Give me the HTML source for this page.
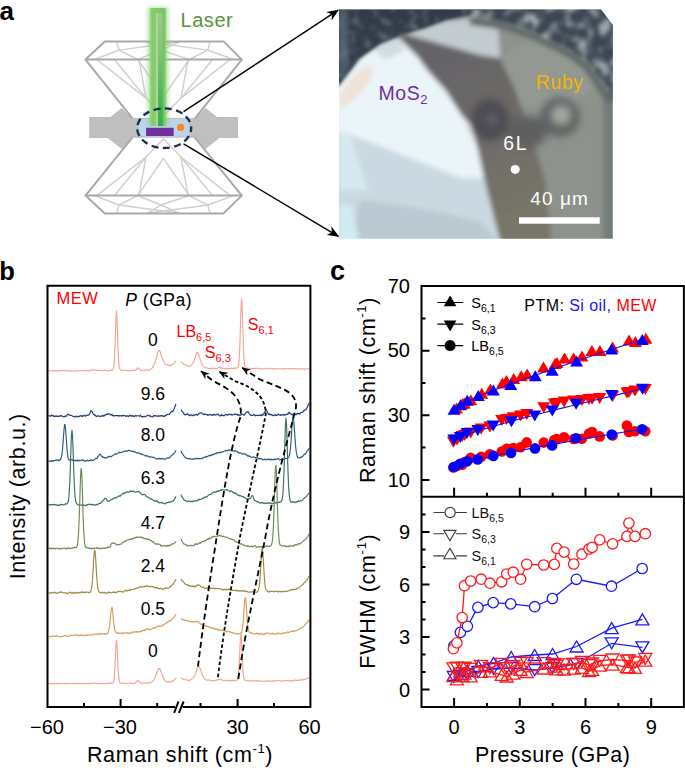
<!DOCTYPE html>
<html><head><meta charset="utf-8">
<style>
html,body{margin:0;padding:0;background:#fff;}
body{width:685px;height:768px;overflow:hidden;}
svg{display:block;}
text{font-family:"Liberation Sans",sans-serif;}
</style></head>
<body>
<svg width="685" height="768" viewBox="0 0 685 768">
<defs>
  <filter id="blur2" x="-5%" y="-5%" width="110%" height="110%"><feGaussianBlur stdDeviation="2.2"/></filter>
  <filter id="blur3" x="-5%" y="-5%" width="110%" height="110%"><feGaussianBlur stdDeviation="2.4"/></filter>
  <linearGradient id="bandg" x1="0" y1="0" x2="0.3" y2="1">
    <stop offset="0" stop-color="#626168"/>
    <stop offset="0.45" stop-color="#6b6866"/>
    <stop offset="1" stop-color="#787469"/>
  </linearGradient>
  <filter id="gtex1" x="-5%" y="-5%" width="110%" height="110%" color-interpolation-filters="sRGB">
    <feTurbulence type="fractalNoise" baseFrequency="0.1" numOctaves="2" seed="4" result="n"/>
    <feColorMatrix in="n" type="matrix" values="0 0 0 0 0.42  0 0 0 0 0.48  0 0 0 0 0.54  2.0 0 0 0 -0.95" result="sp"/>
    <feComposite in="sp" in2="SourceAlpha" operator="in" result="sp2"/>
    <feMerge result="m"><feMergeNode in="SourceGraphic"/><feMergeNode in="sp2"/></feMerge>
    <feGaussianBlur in="m" stdDeviation="1.8"/>
  </filter>
  <filter id="gtex2" x="-5%" y="-5%" width="110%" height="110%" color-interpolation-filters="sRGB">
    <feTurbulence type="fractalNoise" baseFrequency="0.085" numOctaves="2" seed="9" result="n"/>
    <feColorMatrix in="n" type="matrix" values="0 0 0 0 0.74  0 0 0 0 0.78  0 0 0 0 0.80  3.0 0 0 0 -1.35" result="sp"/>
    <feComposite in="sp" in2="SourceAlpha" operator="in" result="sp2"/>
    <feMerge result="m"><feMergeNode in="SourceGraphic"/><feMergeNode in="sp2"/></feMerge>
    <feGaussianBlur in="m" stdDeviation="2"/>
  </filter>
  <filter id="blur35" x="-30%" y="-30%" width="160%" height="160%"><feGaussianBlur stdDeviation="3.2"/></filter>
  <filter id="blur1"><feGaussianBlur stdDeviation="1"/></filter>
  <filter id="glow" x="-50%" y="-10%" width="200%" height="120%"><feGaussianBlur stdDeviation="2"/></filter>
  <filter id="speck" x="0" y="0" width="100%" height="100%">
    <feTurbulence type="fractalNoise" baseFrequency="0.12" numOctaves="2" seed="3" result="n"/>
    <feColorMatrix in="n" type="matrix" values="0 0 0 0 0.62  0 0 0 0 0.68  0 0 0 0 0.72  0 0 0 5 -2.4" result="s"/>
    <feComposite in="s" in2="SourceGraphic" operator="in" result="sm"/>
    <feMerge><feMergeNode in="SourceGraphic"/><feMergeNode in="sm"/></feMerge>
  </filter>
  <clipPath id="photoclip"><polygon points="339,9.5 601,9.5 612.8,25 612.8,238.7 339,238.7"/></clipPath>
  <linearGradient id="beamg" x1="0" x2="1" y1="0" y2="0">
    <stop offset="0" stop-color="#8ccf78" stop-opacity="0.5"/>
    <stop offset="0.15" stop-color="#86cc6c"/>
    <stop offset="0.5" stop-color="#80c868"/>
    <stop offset="0.85" stop-color="#72c460"/>
    <stop offset="1" stop-color="#8ccf78" stop-opacity="0.5"/>
  </linearGradient>
  <linearGradient id="beamv" x1="0" x2="0" y1="0" y2="1">
    <stop offset="0" stop-color="#9dca86"/>
    <stop offset="0.3" stop-color="#86c474"/>
    <stop offset="1" stop-color="#2cb04a"/>
  </linearGradient>
  <filter id="blur06" x="-20%" y="-5%" width="140%" height="110%"><feGaussianBlur stdDeviation="0.7"/></filter>
  <marker id="ah" viewBox="0 0 12 10" refX="11" refY="5" markerWidth="12" markerHeight="10" markerUnits="userSpaceOnUse" orient="auto">
    <path d="M0,0 L12,5 L0,10 L3.5,5 Z" fill="#000"/>
  </marker>
  <marker id="ah2" viewBox="0 0 10 8" refX="9.5" refY="4" markerWidth="9" markerHeight="7.5" markerUnits="userSpaceOnUse" orient="auto">
    <path d="M0,0 L10,4 L0,8 L3,4 Z" fill="#000"/>
  </marker>
</defs>

<!-- ================= Panel a ================= -->
<text x="-0.5" y="20" font-size="26" font-weight="bold">a</text>

<!-- diamonds -->
<g id="diamonds">
  <!-- gasket -->
  <path d="M89.2,117.1 L110.4,117.1 L121.8,107.9 L132.5,118.4 L195,118.4 L205.5,107.9 L217,117.1 L238,117.1 L238,138.1 L219.5,138.1 L205.5,149 L194.5,137.2 L132.7,137.2 L121.8,149 L107.8,138.1 L89.2,138.1 Z" fill="#bfbfbf"/>
  <g stroke="#cfcfcf" stroke-width="1.45" fill="none" stroke-linejoin="round">
    <path d="M163.5,116.1 L146,98.1 L96.8,59.5"/>
    <path d="M146,98.1 L114.4,59.5"/>
    <path d="M146,98.1 L138.9,59.5"/>
    <path d="M163.5,116.1 L181,98.1 L230.2,59.5"/>
    <path d="M181,98.1 L212.6,59.5"/>
    <path d="M181,98.1 L188.1,59.5"/>
    <path d="M137.7,59.5 L163.4,96.7 L189.3,59.5"/>
    <path d="M94.5,59.5 L119,50.1 L137.7,59.5"/>
    <path d="M119,50.1 L116.7,41.8"/>
    <path d="M119,50.1 L179.8,41.8"/>
    <path d="M137.7,59.5 L161,50.1 L189,59.5"/>
    <path d="M147,41.8 L207.8,50.1"/>
    <path d="M189,59.5 L207.8,50.1 L233.5,59.5"/>
    <path d="M207.8,50.1 L210,41.8"/>
    <path d="M161,50.1 L147,41.8"/>
    <path d="M161,50.1 L179.8,41.8"/>
    <path d="M163.5,139 L146,157 L96.8,195.6"/>
    <path d="M146,157 L114.4,195.6"/>
    <path d="M146,157 L138.9,195.6"/>
    <path d="M163.5,139 L181,157 L230.2,195.6"/>
    <path d="M181,157 L212.6,195.6"/>
    <path d="M181,157 L188.1,195.6"/>
    <path d="M137.7,195.6 L163.4,158.4 L189.3,195.6"/>
    <path d="M94.5,195.6 L119,205 L137.7,195.6"/>
    <path d="M119,205 L116.7,213.3"/>
    <path d="M119,205 L179.8,213.3"/>
    <path d="M137.7,195.6 L161,205 L189,195.6"/>
    <path d="M147,213.3 L207.8,205"/>
    <path d="M189,195.6 L207.8,205 L233.5,195.6"/>
    <path d="M207.8,205 L210,213.3"/>
    <path d="M161,205 L147,213.3"/>
    <path d="M161,205 L179.8,213.3"/>
  </g>
  <g stroke="#a9a9a9" stroke-width="2" fill="none" stroke-linejoin="round">
    <path d="M104.8,41.4 L223.5,41.4 L241.8,59.6 L85.5,59.6 Z"/>
    <path d="M85.5,59.6 L132.5,118.4 M241.8,59.6 L195,118.4"/>
    <path d="M104.8,213.4 L223.5,213.4 L241.8,195.6 L85.5,195.6 Z"/>
    <path d="M85.5,195.6 L132.7,137.2 M241.8,195.6 L194.5,137.2"/>
  </g>
  <!-- sample chamber -->
  <rect x="138.2" y="118.4" width="50.6" height="18.7" rx="3" ry="3" fill="#bcd5ed"/>
  <path d="M132.5,118.4 H195 M132.7,137.2 H194.5" stroke="#b4b4b4" stroke-width="0.8"/>
  <!-- beam -->
  <rect x="147.5" y="7" width="21" height="119" fill="#86cf70" opacity="0.55" filter="url(#glow)"/>
  <rect x="149.6" y="8" width="16.9" height="118" fill="url(#beamg)" filter="url(#blur06)"/>
  <rect x="155.6" y="13" width="2.6" height="113" fill="#acd49a"/>
  <rect x="158.1" y="13" width="4.6" height="113" fill="url(#beamv)"/>
  <rect x="146.1" y="127.8" width="27.6" height="8.2" fill="#7030a0"/>
  <circle cx="180.6" cy="127.4" r="3.6" fill="#fb8a1a"/>
  <ellipse cx="164.2" cy="128.2" rx="27" ry="19.8" fill="none" stroke="#1c2e52" stroke-width="2.3" stroke-dasharray="7 4.4" stroke-dashoffset="3"/>
</g>
<text x="180.5" y="27.3" font-size="20" letter-spacing="0.55" fill="#56953a">Laser</text>

<!-- connector arrows -->
<line x1="183.6" y1="111.7" x2="338.1" y2="10.2" stroke="#000" stroke-width="1.4" marker-end="url(#ah)"/>
<line x1="183.6" y1="143.9" x2="338.3" y2="236.3" stroke="#000" stroke-width="1.4" marker-end="url(#ah)"/>

<!-- photo -->
<g clip-path="url(#photoclip)">
  <g filter="url(#blur3)">
    <rect x="330" y="0" width="300" height="250" fill="#8d938c"/>
    <ellipse cx="545" cy="75" rx="50" ry="35" fill="#939992"/>
    <rect x="603" y="90" width="30" height="160" fill="#737d7c"/>
    <!-- dark brown band -->
    <polygon points="396,33 440,40 480,55 500,58 515,90 530,130 545,180 552,245 501,245 492,210 484,178 478,150 471,125 462,116 446,91 428,71 417,56" fill="url(#bandg)"/>
    <!-- bright MoS2 -->
    <polygon points="330,80 339,85 360,58 380,44 397,37 417,56 428,71 446,91 462,116 471,125 478,150 484,178 460,178 345,133 330,132" fill="#ebf4f8"/>
    <polygon points="330,132 345,133 460,178 484,178 492,210 501,245 330,245" fill="#cad9e1"/>
    <polygon points="360,200 400,205 440,212 480,222 501,245 350,245" fill="#bac9d2"/>
    <polygon points="339,205 352,205 360,245 339,245" fill="#d2eaf1"/>
    <polygon points="339,132 350,134 368,190 339,190" fill="#d6e9f0"/>
    <!-- warm tint -->
    <ellipse cx="356" cy="86" rx="8" ry="26" transform="rotate(40 356 86)" fill="#f0e0d4" opacity="0.9"/>
    <polygon points="372,48 397,37 405,50 385,60" fill="#c9d5dc" opacity="0.8"/>
    <!-- light grey quad -->
    <polygon points="405,34 446,21 482,18 498,30 500,58 480,55" fill="#c3ccd0"/>
    <!-- dark spot & ruby -->
    <g filter="url(#blur35)">
      <ellipse cx="527" cy="132" rx="20" ry="16" fill="#5f5e60"/>
      <ellipse cx="490" cy="120" rx="19" ry="21" fill="#4e4b53"/>
      <circle cx="492" cy="119" r="6" fill="#625e66"/>
      <circle cx="560" cy="117" r="20" fill="#5d6364"/>
      <circle cx="561" cy="115" r="9.5" fill="#a6a8a0"/>
    </g>
    <!-- gasket rim shadow -->
    <path d="M470,21 L505,26 L533,36 L554,46 L571,55 L586,66 L597,82 L610,102" stroke="#646b6a" stroke-width="8" fill="none" stroke-linejoin="round"/>
  </g>
  <g filter="url(#gtex1)">
    <polygon points="330,0 485,0 480,13 446,20 425,28 405,34 397,37 380,44 360,58 339,85 330,92" fill="#313c48"/>
  </g>
  <polygon points="339,9.5 347,9.5 348,60 339,75" fill="#6d7c89" opacity="0.7" filter="url(#blur35)"/>
  <g filter="url(#gtex2)">
    <path d="M470,0 L630,0 L630,115 L613,99 L600,78 L588,62 L571,51 L554,42 L533,32 L505,22 L472,17 Z" fill="#3a4551"/>
  </g>
</g>

<text x="378.6" y="100.2" font-size="19.5" letter-spacing="0.5" fill="#7030a0">MoS<tspan font-size="13" dy="4">2</tspan></text>
<text x="535.8" y="88.6" font-size="19.5" letter-spacing="0.6" fill="#f5b400">Ruby</text>
<text x="503.3" y="150" font-size="19.3" letter-spacing="1.8" fill="#fff">6L</text>
<circle cx="515.2" cy="169.4" r="4.5" fill="#fff"/>
<text x="530.3" y="205.2" font-size="19" letter-spacing="1.1" fill="#fff">40 μm</text>
<rect x="519" y="217.3" width="80.7" height="6.4" fill="#fff"/>

<!-- ================= Panel b ================= -->
<text x="-0.8" y="279.6" font-size="25.5" font-weight="bold">b</text>
<g fill="none" stroke-width="1.15" stroke-linejoin="round">
<path d="M48.5 370.6 L49.0 370.9 L49.5 371.0 L50.0 370.8 L50.5 370.8 L51.0 370.7 L51.5 370.8 L52.0 371.0 L52.5 370.7 L53.0 370.5 L53.5 370.8 L54.0 370.8 L54.5 370.9 L55.0 370.6 L55.5 370.6 L56.0 370.8 L56.5 370.7 L57.0 371.0 L57.5 371.1 L58.0 370.7 L58.5 370.5 L59.0 370.6 L59.5 370.9 L60.0 370.8 L60.5 370.6 L61.0 370.7 L61.5 370.5 L62.0 370.4 L62.5 370.6 L63.0 370.7 L63.5 370.6 L64.0 370.5 L64.5 370.5 L65.0 370.6 L65.5 370.6 L66.0 370.4 L66.5 370.8 L67.0 370.8 L67.5 370.9 L68.0 370.7 L68.5 371.0 L69.0 371.1 L69.5 370.7 L70.0 370.7 L70.5 370.8 L71.0 370.9 L71.5 371.1 L72.0 370.9 L72.5 371.0 L73.0 371.0 L73.5 370.8 L74.0 370.8 L74.5 371.0 L75.0 371.1 L75.5 370.9 L76.0 370.9 L76.5 370.6 L77.0 370.5 L77.5 370.8 L78.0 370.7 L78.5 370.6 L79.0 370.7 L79.5 370.8 L80.0 370.9 L80.5 370.8 L81.0 370.7 L81.5 370.7 L82.0 370.9 L82.5 370.8 L83.0 370.7 L83.5 370.7 L84.0 370.5 L84.5 370.3 L85.0 370.6 L85.5 370.9 L86.0 370.9 L86.5 370.7 L87.0 370.5 L87.5 370.6 L88.0 370.8 L88.5 370.8 L89.0 370.7 L89.5 370.8 L90.0 370.4 L90.5 370.3 L91.0 370.5 L91.5 370.3 L92.0 370.1 L92.5 369.8 L93.0 369.8 L93.5 370.0 L94.0 369.6 L94.5 369.9 L95.0 370.1 L95.5 370.2 L96.0 370.3 L96.5 370.5 L97.0 370.4 L97.5 370.4 L98.0 370.4 L98.5 370.2 L99.0 370.6 L99.5 370.6 L100.0 370.5 L100.5 370.5 L101.0 370.6 L101.5 370.5 L102.0 370.5 L102.5 370.6 L103.0 370.7 L103.5 370.7 L104.0 370.7 L104.5 370.4 L105.0 370.4 L105.5 370.3 L106.0 370.5 L106.5 370.7 L107.0 370.8 L107.5 370.9 L108.0 370.9 L108.5 370.6 L109.0 370.7 L109.5 370.7 L110.0 370.3 L110.5 370.1 L111.0 369.9 L111.5 370.2 L112.0 370.0 L112.5 369.6 L113.0 369.4 L113.5 368.2 L114.0 365.1 L114.5 358.5 L115.0 347.3 L115.5 331.7 L116.0 316.9 L116.5 310.7 L117.0 317.1 L117.5 331.9 L118.0 347.4 L118.5 358.6 L119.0 365.2 L119.5 368.2 L120.0 369.3 L120.5 369.6 L121.0 370.2 L121.5 370.3 L122.0 370.2 L122.5 370.4 L123.0 370.6 L123.5 370.3 L124.0 370.1 L124.5 370.1 L125.0 370.4 L125.5 370.3 L126.0 370.5 L126.5 370.7 L127.0 370.7 L127.5 370.5 L128.0 370.8 L128.5 370.9 L129.0 370.7 L129.5 370.5 L130.0 370.6 L130.5 370.5 L131.0 370.6 L131.5 370.5 L132.0 370.6 L132.5 370.3 L133.0 370.3 L133.5 370.6 L134.0 370.7 L134.5 370.4 L135.0 370.5 L135.5 370.0 L136.0 370.0 L136.5 369.5 L137.0 368.9 L137.5 368.2 L138.0 367.8 L138.5 368.3 L139.0 368.5 L139.5 369.3 L140.0 369.9 L140.5 370.1 L141.0 370.1 L141.5 370.4 L142.0 370.7 L142.5 370.6 L143.0 370.5 L143.5 370.4 L144.0 370.3 L144.5 370.1 L145.0 370.3 L145.5 370.2 L146.0 370.1 L146.5 369.9 L147.0 370.1 L147.5 370.0 L148.0 370.0 L148.5 369.9 L149.0 370.1 L149.5 370.1 L150.0 369.6 L150.5 369.1 L151.0 368.7 L151.5 368.6 L152.0 368.2 L152.5 367.3 L153.0 366.4 L153.5 365.7 L154.0 364.8 L154.5 363.7 L155.0 362.1 L155.5 360.8 L156.0 359.1 L156.5 357.2 L157.0 355.7 L157.5 353.7 L158.0 352.4 L158.5 351.0 L159.0 350.4 L159.5 350.8 L160.0 351.3 L160.5 352.7 L161.0 354.2 L161.5 355.9 L162.0 357.3 L162.5 358.6 L163.0 359.8 L163.5 361.2 L164.0 362.2 L164.5 363.2 L165.0 364.0 L165.5 364.1 L166.0 364.6 L166.5 364.6 L167.0 364.7 L167.5 364.8 L168.0 365.3 L168.5 365.5 L169.0 365.6 L169.5 365.4 L170.0 365.4 L170.5 365.4 L171.0 365.1 L171.5 365.0 L172.0 364.6 L172.5 364.2 L173.0 363.9 L173.5 363.8 L174.0 363.4 L174.5 363.1 L175.0 362.3 L175.5 361.4 L176.0 360.6" stroke="#f5a596"/>
<path d="M181.0 361.8 L181.5 362.5 L182.0 362.5 L182.5 362.8 L183.0 363.5 L183.5 364.0 L184.0 364.4 L184.5 364.5 L185.0 364.8 L185.5 365.1 L186.0 365.3 L186.5 365.3 L187.0 365.5 L187.5 365.6 L188.0 365.9 L188.5 366.2 L189.0 366.4 L189.5 366.2 L190.0 366.0 L190.5 365.7 L191.0 365.2 L191.5 364.7 L192.0 364.4 L192.5 363.8 L193.0 363.0 L193.5 362.3 L194.0 361.0 L194.5 359.6 L195.0 357.9 L195.5 356.1 L196.0 354.6 L196.5 353.2 L197.0 352.5 L197.5 352.5 L198.0 352.9 L198.5 353.6 L199.0 355.3 L199.5 357.0 L200.0 358.7 L200.5 360.4 L201.0 361.8 L201.5 363.1 L202.0 364.0 L202.5 365.2 L203.0 366.0 L203.5 366.3 L204.0 366.8 L204.5 367.3 L205.0 367.4 L205.5 367.6 L206.0 367.7 L206.5 368.1 L207.0 368.1 L207.5 368.3 L208.0 368.1 L208.5 368.4 L209.0 368.5 L209.5 368.4 L210.0 368.4 L210.5 368.6 L211.0 368.6 L211.5 368.5 L212.0 368.3 L212.5 368.3 L213.0 368.5 L213.5 368.3 L214.0 368.6 L214.5 368.4 L215.0 368.6 L215.5 368.4 L216.0 368.7 L216.5 368.6 L217.0 368.4 L217.5 368.2 L218.0 368.0 L218.5 367.7 L219.0 367.2 L219.5 366.9 L220.0 367.1 L220.5 367.6 L221.0 367.9 L221.5 367.9 L222.0 368.3 L222.5 368.6 L223.0 368.8 L223.5 368.5 L224.0 368.7 L224.5 368.4 L225.0 368.6 L225.5 368.5 L226.0 368.4 L226.5 368.7 L227.0 368.4 L227.5 368.5 L228.0 368.8 L228.5 368.5 L229.0 368.4 L229.5 368.7 L230.0 368.6 L230.5 368.7 L231.0 368.4 L231.5 368.4 L232.0 368.3 L232.5 368.5 L233.0 368.3 L233.5 368.6 L234.0 368.3 L234.5 368.4 L235.0 368.1 L235.5 368.0 L236.0 368.3 L236.5 368.0 L237.0 367.7 L237.5 367.7 L238.0 367.0 L238.5 365.1 L239.0 361.7 L239.5 353.7 L240.0 340.8 L240.5 324.1 L241.0 307.9 L241.5 299.1 L242.0 302.9 L242.5 317.2 L243.0 334.4 L243.5 349.2 L244.0 359.1 L244.5 364.4 L245.0 366.9 L245.5 367.8 L246.0 368.3 L246.5 368.4 L247.0 368.4 L247.5 368.2 L248.0 368.4 L248.5 368.4 L249.0 368.2 L249.5 368.3 L250.0 368.7 L250.5 368.4 L251.0 368.6 L251.5 368.5 L252.0 368.6 L252.5 368.4 L253.0 368.8 L253.5 368.6 L254.0 368.7 L254.5 368.6 L255.0 368.4 L255.5 368.6 L256.0 368.4 L256.5 368.3 L257.0 368.2 L257.5 368.3 L258.0 368.3 L258.5 368.5 L259.0 368.6 L259.5 368.9 L260.0 369.1 L260.5 369.2 L261.0 368.8 L261.5 368.8 L262.0 368.6 L262.5 368.7 L263.0 368.8 L263.5 368.9 L264.0 369.0 L264.5 368.7 L265.0 368.7 L265.5 368.7 L266.0 368.5 L266.5 368.3 L267.0 368.5 L267.5 368.4 L268.0 368.7 L268.5 368.6 L269.0 368.4 L269.5 368.4 L270.0 368.4 L270.5 368.4 L271.0 368.6 L271.5 368.7 L272.0 368.6 L272.5 368.8 L273.0 368.6 L273.5 368.9 L274.0 369.1 L274.5 369.1 L275.0 368.9 L275.5 368.9 L276.0 368.9 L276.5 368.6 L277.0 368.6 L277.5 368.7 L278.0 368.6 L278.5 368.4 L279.0 368.8 L279.5 368.7 L280.0 368.7 L280.5 369.0 L281.0 369.0 L281.5 368.8 L282.0 369.0 L282.5 368.9 L283.0 368.6 L283.5 368.8 L284.0 368.5 L284.5 368.5 L285.0 368.8 L285.5 368.9 L286.0 368.6 L286.5 368.6 L287.0 368.7 L287.5 368.7 L288.0 368.6 L288.5 368.7 L289.0 368.5 L289.5 368.5 L290.0 368.6 L290.5 368.9 L291.0 368.6 L291.5 368.8 L292.0 368.6 L292.5 368.7 L293.0 368.7 L293.5 368.7 L294.0 368.9 L294.5 368.8 L295.0 368.6 L295.5 368.5 L296.0 368.4 L296.5 368.8 L297.0 368.8 L297.5 369.1 L298.0 369.1 L298.5 368.7 L299.0 368.8 L299.5 369.0 L300.0 369.0 L300.5 368.9 L301.0 368.8 L301.5 368.8 L302.0 368.9 L302.5 368.7 L303.0 368.8 L303.5 368.8 L304.0 369.0 L304.5 369.1 L305.0 369.2 L305.5 369.2 L306.0 368.9 L306.5 368.7 L307.0 368.7 L307.5 368.6 L308.0 368.7 L308.5 368.8 L309.0 369.0" stroke="#f5a596"/>
<path d="M48.5 415.6 L49.0 415.9 L49.5 415.7 L50.0 416.0 L50.5 416.2 L51.0 415.5 L51.5 415.1 L52.0 415.9 L52.5 415.6 L53.0 415.4 L53.5 416.3 L54.0 416.1 L54.5 416.5 L55.0 416.2 L55.5 416.3 L56.0 415.7 L56.5 416.0 L57.0 416.5 L57.5 416.3 L58.0 416.5 L58.5 416.5 L59.0 415.7 L59.5 416.1 L60.0 416.2 L60.5 415.8 L61.0 415.3 L61.5 416.1 L62.0 416.0 L62.5 416.2 L63.0 416.6 L63.5 416.6 L64.0 416.8 L64.5 416.2 L65.0 416.4 L65.5 416.0 L66.0 416.4 L66.5 416.3 L67.0 415.1 L67.5 414.4 L68.0 414.0 L68.5 414.7 L69.0 414.7 L69.5 415.1 L70.0 415.0 L70.5 415.4 L71.0 415.4 L71.5 415.5 L72.0 415.8 L72.5 416.0 L73.0 416.5 L73.5 416.5 L74.0 416.8 L74.5 416.9 L75.0 417.1 L75.5 416.8 L76.0 416.0 L76.5 416.4 L77.0 416.8 L77.5 417.0 L78.0 416.6 L78.5 416.6 L79.0 415.9 L79.5 416.4 L80.0 416.3 L80.5 415.8 L81.0 415.3 L81.5 416.0 L82.0 416.6 L82.5 415.8 L83.0 416.2 L83.5 415.9 L84.0 415.4 L84.5 415.3 L85.0 415.9 L85.5 416.3 L86.0 415.5 L86.5 415.7 L87.0 415.0 L87.5 415.4 L88.0 415.0 L88.5 415.2 L89.0 415.0 L89.5 413.8 L90.0 413.2 L90.5 411.6 L91.0 410.6 L91.5 411.3 L92.0 411.6 L92.5 412.5 L93.0 413.6 L93.5 414.6 L94.0 414.7 L94.5 414.6 L95.0 415.6 L95.5 415.4 L96.0 416.2 L96.5 416.6 L97.0 416.1 L97.5 415.9 L98.0 415.9 L98.5 416.1 L99.0 416.1 L99.5 416.1 L100.0 416.1 L100.5 416.6 L101.0 416.3 L101.5 416.0 L102.0 416.2 L102.5 415.6 L103.0 415.4 L103.5 416.1 L104.0 415.9 L104.5 415.7 L105.0 414.9 L105.5 414.8 L106.0 414.9 L106.5 414.1 L107.0 414.3 L107.5 414.4 L108.0 413.6 L108.5 413.9 L109.0 413.9 L109.5 414.3 L110.0 414.2 L110.5 414.8 L111.0 415.2 L111.5 414.6 L112.0 414.4 L112.5 415.2 L113.0 416.0 L113.5 415.6 L114.0 415.6 L114.5 415.9 L115.0 415.6 L115.5 415.6 L116.0 415.5 L116.5 415.5 L117.0 415.8 L117.5 415.6 L118.0 415.6 L118.5 416.1 L119.0 415.4 L119.5 415.7 L120.0 416.1 L120.5 415.8 L121.0 415.5 L121.5 416.1 L122.0 415.7 L122.5 415.4 L123.0 415.6 L123.5 416.0 L124.0 415.5 L124.5 415.5 L125.0 415.5 L125.5 416.1 L126.0 416.0 L126.5 416.5 L127.0 415.8 L127.5 415.7 L128.0 416.0 L128.5 416.5 L129.0 416.2 L129.5 415.7 L130.0 415.3 L130.5 415.7 L131.0 415.4 L131.5 416.1 L132.0 416.5 L132.5 415.8 L133.0 415.6 L133.5 416.2 L134.0 416.3 L134.5 416.6 L135.0 416.1 L135.5 415.6 L136.0 415.5 L136.5 416.1 L137.0 415.7 L137.5 415.7 L138.0 415.7 L138.5 415.7 L139.0 415.7 L139.5 416.4 L140.0 415.8 L140.5 415.2 L141.0 416.1 L141.5 416.6 L142.0 417.0 L142.5 416.4 L143.0 416.8 L143.5 417.0 L144.0 416.2 L144.5 416.4 L145.0 416.7 L145.5 416.6 L146.0 416.3 L146.5 415.9 L147.0 415.7 L147.5 415.5 L148.0 415.1 L148.5 415.6 L149.0 415.5 L149.5 416.1 L150.0 415.5 L150.5 416.2 L151.0 416.4 L151.5 416.8 L152.0 416.9 L152.5 417.0 L153.0 416.7 L153.5 415.7 L154.0 416.1 L154.5 415.6 L155.0 415.5 L155.5 415.9 L156.0 416.0 L156.5 415.8 L157.0 416.5 L157.5 416.4 L158.0 416.0 L158.5 415.6 L159.0 416.2 L159.5 416.0 L160.0 416.3 L160.5 415.9 L161.0 415.5 L161.5 415.6 L162.0 416.1 L162.5 415.5 L163.0 416.0 L163.5 416.4 L164.0 416.4 L164.5 416.4 L165.0 415.3 L165.5 415.5 L166.0 415.8 L166.5 414.9 L167.0 414.6 L167.5 414.4 L168.0 414.5 L168.5 414.3 L169.0 414.2 L169.5 414.4 L170.0 413.3 L170.5 412.6 L171.0 412.2 L171.5 411.7 L172.0 411.0 L172.5 411.6 L173.0 411.4 L173.5 409.8 L174.0 409.1 L174.5 407.9 L175.0 406.6 L175.5 405.2 L176.0 404.0" stroke="#203a7a"/>
<path d="M181.0 409.6 L181.5 410.4 L182.0 411.4 L182.5 411.9 L183.0 412.2 L183.5 412.9 L184.0 414.1 L184.5 414.6 L185.0 414.9 L185.5 414.4 L186.0 414.6 L186.5 414.4 L187.0 414.1 L187.5 413.9 L188.0 414.0 L188.5 415.0 L189.0 415.4 L189.5 415.6 L190.0 415.7 L190.5 414.9 L191.0 414.7 L191.5 415.0 L192.0 415.3 L192.5 415.6 L193.0 415.8 L193.5 414.8 L194.0 415.0 L194.5 415.2 L195.0 415.1 L195.5 414.5 L196.0 414.6 L196.5 414.1 L197.0 414.9 L197.5 415.1 L198.0 414.7 L198.5 413.9 L199.0 413.9 L199.5 413.2 L200.0 413.0 L200.5 412.8 L201.0 412.7 L201.5 412.9 L202.0 413.6 L202.5 413.9 L203.0 413.9 L203.5 414.0 L204.0 414.8 L204.5 414.3 L205.0 413.9 L205.5 414.5 L206.0 414.4 L206.5 414.7 L207.0 414.8 L207.5 414.6 L208.0 415.4 L208.5 414.8 L209.0 414.8 L209.5 414.5 L210.0 414.9 L210.5 414.6 L211.0 414.6 L211.5 415.1 L212.0 414.8 L212.5 415.0 L213.0 415.5 L213.5 414.7 L214.0 414.3 L214.5 414.2 L215.0 414.9 L215.5 415.1 L216.0 414.7 L216.5 414.6 L217.0 414.3 L217.5 414.6 L218.0 414.2 L218.5 414.8 L219.0 415.4 L219.5 415.8 L220.0 415.7 L220.5 416.0 L221.0 414.9 L221.5 414.7 L222.0 415.4 L222.5 415.6 L223.0 415.2 L223.5 415.7 L224.0 415.5 L224.5 415.7 L225.0 415.1 L225.5 414.6 L226.0 414.7 L226.5 414.4 L227.0 414.5 L227.5 415.3 L228.0 414.9 L228.5 414.3 L229.0 414.0 L229.5 414.0 L230.0 414.8 L230.5 414.7 L231.0 414.6 L231.5 414.2 L232.0 415.2 L232.5 415.0 L233.0 414.6 L233.5 414.2 L234.0 414.0 L234.5 414.0 L235.0 414.7 L235.5 414.3 L236.0 414.0 L236.5 414.4 L237.0 414.3 L237.5 415.3 L238.0 414.6 L238.5 414.8 L239.0 415.2 L239.5 415.0 L240.0 415.6 L240.5 415.3 L241.0 414.8 L241.5 414.7 L242.0 414.2 L242.5 414.4 L243.0 414.2 L243.5 415.0 L244.0 415.2 L244.5 414.9 L245.0 413.9 L245.5 413.4 L246.0 412.8 L246.5 412.2 L247.0 411.6 L247.5 412.1 L248.0 411.7 L248.5 411.8 L249.0 413.4 L249.5 413.9 L250.0 414.9 L250.5 414.8 L251.0 415.3 L251.5 415.3 L252.0 415.5 L252.5 415.5 L253.0 415.2 L253.5 414.5 L254.0 414.3 L254.5 415.1 L255.0 415.5 L255.5 415.8 L256.0 415.2 L256.5 415.3 L257.0 415.5 L257.5 415.4 L258.0 415.6 L258.5 415.3 L259.0 415.3 L259.5 415.3 L260.0 414.8 L260.5 415.3 L261.0 415.7 L261.5 414.6 L262.0 415.2 L262.5 415.4 L263.0 415.0 L263.5 413.6 L264.0 413.6 L264.5 412.1 L265.0 411.8 L265.5 410.9 L266.0 409.7 L266.5 409.8 L267.0 411.2 L267.5 412.3 L268.0 413.5 L268.5 414.6 L269.0 414.3 L269.5 413.9 L270.0 414.8 L270.5 414.2 L271.0 415.0 L271.5 414.4 L272.0 415.0 L272.5 415.3 L273.0 415.6 L273.5 415.4 L274.0 415.7 L274.5 414.9 L275.0 415.2 L275.5 414.8 L276.0 415.4 L276.5 415.5 L277.0 415.2 L277.5 415.1 L278.0 414.4 L278.5 414.0 L279.0 414.6 L279.5 414.7 L280.0 415.3 L280.5 415.3 L281.0 414.6 L281.5 414.6 L282.0 415.1 L282.5 415.0 L283.0 414.3 L283.5 415.0 L284.0 415.4 L284.5 414.6 L285.0 414.7 L285.5 414.6 L286.0 415.0 L286.5 414.5 L287.0 414.0 L287.5 413.9 L288.0 414.2 L288.5 413.0 L289.0 412.3 L289.5 412.6 L290.0 413.4 L290.5 413.6 L291.0 413.8 L291.5 414.6 L292.0 414.9 L292.5 414.2 L293.0 414.8 L293.5 414.3 L294.0 414.1 L294.5 414.7 L295.0 414.4 L295.5 414.7 L296.0 414.1 L296.5 414.6 L297.0 413.9 L297.5 413.4 L298.0 413.6 L298.5 413.4 L299.0 413.5 L299.5 414.0 L300.0 413.9 L300.5 412.8 L301.0 412.5 L301.5 412.5 L302.0 412.3 L302.5 412.4 L303.0 411.9 L303.5 410.9 L304.0 410.4 L304.5 410.7 L305.0 409.9 L305.5 409.8 L306.0 409.6 L306.5 408.7 L307.0 407.9 L307.5 406.8 L308.0 405.4 L308.5 404.8 L309.0 403.2" stroke="#203a7a"/>
<path d="M48.5 460.8 L49.0 461.0 L49.5 461.1 L50.0 461.4 L50.5 461.3 L51.0 461.5 L51.5 460.6 L52.0 460.5 L52.5 461.1 L53.0 461.0 L53.5 461.3 L54.0 460.5 L54.5 460.5 L55.0 460.2 L55.5 460.4 L56.0 460.5 L56.5 460.0 L57.0 459.9 L57.5 459.9 L58.0 460.6 L58.5 460.7 L59.0 460.1 L59.5 460.4 L60.0 459.7 L60.5 459.6 L61.0 458.3 L61.5 456.3 L62.0 454.2 L62.5 449.3 L63.0 442.9 L63.5 436.4 L64.0 429.7 L64.5 424.6 L65.0 424.6 L65.5 428.3 L66.0 435.0 L66.5 441.9 L67.0 448.9 L67.5 453.9 L68.0 457.4 L68.5 459.4 L69.0 459.7 L69.5 459.9 L70.0 459.8 L70.5 459.7 L71.0 459.5 L71.5 459.7 L72.0 460.2 L72.5 459.8 L73.0 460.3 L73.5 460.2 L74.0 460.2 L74.5 460.7 L75.0 460.6 L75.5 460.4 L76.0 460.4 L76.5 460.7 L77.0 460.2 L77.5 460.9 L78.0 460.2 L78.5 460.7 L79.0 461.0 L79.5 460.3 L80.0 460.7 L80.5 460.5 L81.0 460.6 L81.5 460.1 L82.0 459.8 L82.5 459.8 L83.0 460.6 L83.5 460.3 L84.0 460.7 L84.5 461.1 L85.0 461.3 L85.5 460.8 L86.0 460.5 L86.5 460.5 L87.0 460.8 L87.5 460.2 L88.0 460.6 L88.5 460.8 L89.0 461.0 L89.5 460.2 L90.0 460.7 L90.5 460.0 L91.0 459.9 L91.5 460.1 L92.0 460.6 L92.5 460.1 L93.0 460.5 L93.5 460.3 L94.0 459.8 L94.5 459.5 L95.0 459.1 L95.5 458.6 L96.0 458.3 L96.5 458.4 L97.0 458.6 L97.5 457.3 L98.0 456.1 L98.5 456.1 L99.0 455.2 L99.5 454.5 L100.0 454.1 L100.5 454.6 L101.0 455.6 L101.5 456.0 L102.0 456.5 L102.5 456.5 L103.0 457.6 L103.5 457.2 L104.0 457.5 L104.5 458.0 L105.0 457.5 L105.5 457.8 L106.0 458.1 L106.5 457.9 L107.0 457.9 L107.5 457.0 L108.0 456.9 L108.5 456.4 L109.0 456.8 L109.5 456.3 L110.0 456.2 L110.5 456.6 L111.0 456.6 L111.5 456.6 L112.0 456.0 L112.5 455.6 L113.0 455.5 L113.5 455.1 L114.0 454.6 L114.5 454.3 L115.0 453.8 L115.5 453.7 L116.0 454.2 L116.5 454.4 L117.0 454.0 L117.5 453.6 L118.0 453.1 L118.5 452.4 L119.0 452.2 L119.5 452.6 L120.0 452.8 L120.5 452.3 L121.0 452.4 L121.5 452.4 L122.0 452.2 L122.5 452.0 L123.0 452.0 L123.5 451.5 L124.0 451.5 L124.5 451.0 L125.0 451.0 L125.5 451.2 L126.0 451.2 L126.5 450.8 L127.0 451.2 L127.5 451.1 L128.0 451.0 L128.5 450.3 L129.0 450.5 L129.5 450.3 L130.0 450.7 L130.5 450.7 L131.0 451.1 L131.5 451.2 L132.0 451.4 L132.5 451.1 L133.0 451.3 L133.5 451.6 L134.0 451.9 L134.5 451.6 L135.0 452.0 L135.5 452.4 L136.0 452.4 L136.5 452.8 L137.0 453.1 L137.5 452.9 L138.0 452.8 L138.5 452.5 L139.0 453.1 L139.5 453.7 L140.0 453.6 L140.5 453.9 L141.0 454.1 L141.5 454.4 L142.0 454.0 L142.5 454.5 L143.0 454.7 L143.5 455.0 L144.0 455.0 L144.5 455.3 L145.0 455.7 L145.5 455.9 L146.0 456.2 L146.5 455.6 L147.0 455.6 L147.5 455.9 L148.0 456.4 L148.5 456.3 L149.0 456.9 L149.5 457.2 L150.0 456.7 L150.5 457.1 L151.0 457.0 L151.5 456.9 L152.0 457.0 L152.5 457.3 L153.0 457.3 L153.5 457.4 L154.0 457.3 L154.5 457.8 L155.0 458.0 L155.5 458.4 L156.0 458.7 L156.5 458.5 L157.0 459.1 L157.5 458.5 L158.0 458.6 L158.5 458.5 L159.0 458.7 L159.5 458.4 L160.0 459.1 L160.5 458.9 L161.0 458.5 L161.5 458.8 L162.0 458.5 L162.5 458.7 L163.0 458.6 L163.5 458.8 L164.0 459.3 L164.5 459.4 L165.0 458.9 L165.5 459.0 L166.0 458.9 L166.5 458.4 L167.0 457.8 L167.5 457.9 L168.0 457.8 L168.5 458.1 L169.0 458.2 L169.5 457.7 L170.0 457.0 L170.5 457.1 L171.0 455.9 L171.5 455.3 L172.0 455.2 L172.5 455.0 L173.0 454.1 L173.5 453.9 L174.0 453.8 L174.5 452.9 L175.0 452.1 L175.5 451.1 L176.0 450.2" stroke="#2b5a7c"/>
<path d="M181.0 450.8 L181.5 452.4 L182.0 453.3 L182.5 453.9 L183.0 454.2 L183.5 455.4 L184.0 456.0 L184.5 456.8 L185.0 457.0 L185.5 457.7 L186.0 457.6 L186.5 458.2 L187.0 458.6 L187.5 458.5 L188.0 458.6 L188.5 458.8 L189.0 458.5 L189.5 458.7 L190.0 459.1 L190.5 458.8 L191.0 459.2 L191.5 459.3 L192.0 459.5 L192.5 459.1 L193.0 458.6 L193.5 459.0 L194.0 459.3 L194.5 459.0 L195.0 458.5 L195.5 458.3 L196.0 458.6 L196.5 458.4 L197.0 459.0 L197.5 458.9 L198.0 458.4 L198.5 458.6 L199.0 458.3 L199.5 458.8 L200.0 459.0 L200.5 458.6 L201.0 458.5 L201.5 458.4 L202.0 458.5 L202.5 458.7 L203.0 457.7 L203.5 457.4 L204.0 457.5 L204.5 457.2 L205.0 457.2 L205.5 456.6 L206.0 457.1 L206.5 456.9 L207.0 456.3 L207.5 456.5 L208.0 456.2 L208.5 455.8 L209.0 455.8 L209.5 455.3 L210.0 455.1 L210.5 455.6 L211.0 455.6 L211.5 454.8 L212.0 455.1 L212.5 454.3 L213.0 454.2 L213.5 454.6 L214.0 454.5 L214.5 454.0 L215.0 453.7 L215.5 453.5 L216.0 453.0 L216.5 453.6 L217.0 452.8 L217.5 452.7 L218.0 452.9 L218.5 452.5 L219.0 452.9 L219.5 452.2 L220.0 452.6 L220.5 452.6 L221.0 452.4 L221.5 452.4 L222.0 451.8 L222.5 451.9 L223.0 451.9 L223.5 451.5 L224.0 451.2 L224.5 451.2 L225.0 450.9 L225.5 450.3 L226.0 450.7 L226.5 450.4 L227.0 450.4 L227.5 450.8 L228.0 450.3 L228.5 449.8 L229.0 449.7 L229.5 450.2 L230.0 450.2 L230.5 450.1 L231.0 450.3 L231.5 450.9 L232.0 450.6 L232.5 450.6 L233.0 451.2 L233.5 451.2 L234.0 450.9 L234.5 451.0 L235.0 451.2 L235.5 450.9 L236.0 451.1 L236.5 451.2 L237.0 451.9 L237.5 451.8 L238.0 452.2 L238.5 452.8 L239.0 453.2 L239.5 452.9 L240.0 453.0 L240.5 452.9 L241.0 453.0 L241.5 453.2 L242.0 453.8 L242.5 454.3 L243.0 454.0 L243.5 453.6 L244.0 453.9 L244.5 453.8 L245.0 453.7 L245.5 454.6 L246.0 454.5 L246.5 455.1 L247.0 455.2 L247.5 455.9 L248.0 456.3 L248.5 455.7 L249.0 455.6 L249.5 456.5 L250.0 456.6 L250.5 456.6 L251.0 457.0 L251.5 457.4 L252.0 457.2 L252.5 457.2 L253.0 456.9 L253.5 457.0 L254.0 456.9 L254.5 457.4 L255.0 457.7 L255.5 457.4 L256.0 457.9 L256.5 457.5 L257.0 457.4 L257.5 458.0 L258.0 458.1 L258.5 458.7 L259.0 458.8 L259.5 458.9 L260.0 458.4 L260.5 458.9 L261.0 458.4 L261.5 458.7 L262.0 459.2 L262.5 459.6 L263.0 459.7 L263.5 459.4 L264.0 459.4 L264.5 459.6 L265.0 459.0 L265.5 459.5 L266.0 459.8 L266.5 459.5 L267.0 459.7 L267.5 459.4 L268.0 459.1 L268.5 459.4 L269.0 458.9 L269.5 459.4 L270.0 459.9 L270.5 459.4 L271.0 459.9 L271.5 459.2 L272.0 459.6 L272.5 459.3 L273.0 459.8 L273.5 459.5 L274.0 459.9 L274.5 459.2 L275.0 458.8 L275.5 459.4 L276.0 459.5 L276.5 459.5 L277.0 458.9 L277.5 458.8 L278.0 458.9 L278.5 458.6 L279.0 459.5 L279.5 459.7 L280.0 460.0 L280.5 459.9 L281.0 459.5 L281.5 458.9 L282.0 459.3 L282.5 458.9 L283.0 459.1 L283.5 459.1 L284.0 459.1 L284.5 458.7 L285.0 458.4 L285.5 458.7 L286.0 458.3 L286.5 458.6 L287.0 458.3 L287.5 458.2 L288.0 457.8 L288.5 457.7 L289.0 456.7 L289.5 454.8 L290.0 451.8 L290.5 447.6 L291.0 442.0 L291.5 434.3 L292.0 426.2 L292.5 419.8 L293.0 416.6 L293.5 418.2 L294.0 423.8 L294.5 431.0 L295.0 438.2 L295.5 444.8 L296.0 449.9 L296.5 453.4 L297.0 455.4 L297.5 457.2 L298.0 457.6 L298.5 457.8 L299.0 457.9 L299.5 457.8 L300.0 457.9 L300.5 457.3 L301.0 457.3 L301.5 457.5 L302.0 456.6 L302.5 456.4 L303.0 456.0 L303.5 455.2 L304.0 454.5 L304.5 454.7 L305.0 453.9 L305.5 453.9 L306.0 452.9 L306.5 452.3 L307.0 451.3 L307.5 450.9 L308.0 450.5 L308.5 449.2 L309.0 448.4" stroke="#2b5a7c"/>
<path d="M48.5 505.0 L49.0 504.7 L49.5 505.0 L50.0 504.6 L50.5 504.9 L51.0 504.9 L51.5 504.5 L52.0 504.8 L52.5 504.4 L53.0 504.7 L53.5 504.4 L54.0 504.3 L54.5 504.6 L55.0 505.2 L55.5 504.7 L56.0 504.6 L56.5 504.9 L57.0 505.5 L57.5 505.4 L58.0 505.1 L58.5 505.6 L59.0 504.8 L59.5 505.3 L60.0 504.9 L60.5 504.6 L61.0 504.3 L61.5 504.4 L62.0 505.0 L62.5 504.6 L63.0 504.8 L63.5 504.9 L64.0 504.7 L64.5 504.7 L65.0 504.2 L65.5 503.8 L66.0 503.8 L66.5 504.1 L67.0 503.9 L67.5 503.3 L68.0 502.4 L68.5 500.1 L69.0 495.5 L69.5 488.4 L70.0 477.2 L70.5 462.2 L71.0 447.0 L71.5 434.5 L72.0 430.0 L72.5 435.0 L73.0 447.0 L73.5 462.9 L74.0 476.7 L74.5 488.0 L75.0 495.9 L75.5 499.9 L76.0 502.3 L76.5 503.0 L77.0 503.9 L77.5 504.5 L78.0 504.7 L78.5 505.1 L79.0 504.7 L79.5 505.0 L80.0 505.0 L80.5 505.0 L81.0 504.9 L81.5 505.3 L82.0 505.6 L82.5 505.3 L83.0 505.3 L83.5 504.7 L84.0 505.0 L84.5 505.2 L85.0 505.6 L85.5 505.7 L86.0 505.1 L86.5 504.9 L87.0 505.1 L87.5 504.5 L88.0 504.7 L88.5 504.4 L89.0 504.2 L89.5 504.0 L90.0 504.7 L90.5 504.4 L91.0 504.3 L91.5 504.4 L92.0 505.0 L92.5 504.4 L93.0 504.5 L93.5 504.6 L94.0 505.1 L94.5 505.2 L95.0 505.3 L95.5 504.7 L96.0 504.5 L96.5 504.3 L97.0 504.7 L97.5 505.0 L98.0 504.2 L98.5 503.8 L99.0 503.5 L99.5 503.3 L100.0 503.4 L100.5 503.4 L101.0 502.8 L101.5 502.0 L102.0 501.7 L102.5 501.1 L103.0 500.6 L103.5 500.3 L104.0 499.4 L104.5 498.6 L105.0 498.3 L105.5 498.5 L106.0 498.4 L106.5 499.6 L107.0 500.3 L107.5 501.0 L108.0 501.3 L108.5 501.1 L109.0 501.0 L109.5 500.5 L110.0 500.7 L110.5 500.1 L111.0 499.7 L111.5 499.6 L112.0 499.3 L112.5 499.3 L113.0 498.8 L113.5 498.4 L114.0 498.2 L114.5 497.9 L115.0 497.9 L115.5 497.4 L116.0 498.0 L116.5 497.9 L117.0 497.1 L117.5 496.7 L118.0 496.5 L118.5 496.2 L119.0 495.7 L119.5 496.1 L120.0 496.3 L120.5 495.7 L121.0 495.3 L121.5 494.5 L122.0 494.0 L122.5 493.8 L123.0 493.5 L123.5 493.9 L124.0 493.2 L124.5 492.6 L125.0 493.2 L125.5 493.0 L126.0 492.3 L126.5 492.3 L127.0 491.7 L127.5 491.8 L128.0 492.3 L128.5 492.4 L129.0 492.2 L129.5 491.6 L130.0 491.3 L130.5 490.9 L131.0 491.4 L131.5 491.3 L132.0 491.5 L132.5 491.2 L133.0 490.9 L133.5 491.4 L134.0 491.9 L134.5 492.0 L135.0 492.1 L135.5 492.2 L136.0 492.2 L136.5 491.7 L137.0 491.8 L137.5 491.7 L138.0 491.4 L138.5 491.4 L139.0 491.7 L139.5 491.9 L140.0 492.6 L140.5 493.4 L141.0 493.4 L141.5 494.0 L142.0 494.6 L142.5 494.9 L143.0 494.6 L143.5 494.4 L144.0 494.4 L144.5 494.5 L145.0 494.7 L145.5 495.4 L146.0 496.2 L146.5 496.7 L147.0 496.8 L147.5 497.1 L148.0 497.6 L148.5 497.2 L149.0 497.7 L149.5 498.4 L150.0 498.8 L150.5 499.1 L151.0 499.1 L151.5 498.8 L152.0 499.5 L152.5 499.5 L153.0 500.1 L153.5 500.7 L154.0 500.5 L154.5 500.5 L155.0 501.2 L155.5 501.5 L156.0 501.1 L156.5 500.9 L157.0 500.9 L157.5 501.8 L158.0 502.3 L158.5 501.9 L159.0 502.5 L159.5 503.0 L160.0 503.0 L160.5 502.7 L161.0 502.8 L161.5 502.4 L162.0 502.2 L162.5 503.1 L163.0 503.2 L163.5 503.2 L164.0 503.7 L164.5 503.4 L165.0 503.7 L165.5 503.8 L166.0 503.1 L166.5 502.8 L167.0 502.6 L167.5 502.5 L168.0 502.7 L168.5 502.4 L169.0 502.3 L169.5 501.9 L170.0 502.4 L170.5 502.0 L171.0 501.7 L171.5 501.6 L172.0 501.7 L172.5 501.1 L173.0 501.1 L173.5 500.4 L174.0 499.8 L174.5 499.2 L175.0 498.0 L175.5 497.5 L176.0 496.5" stroke="#3b6e64"/>
<path d="M181.0 494.6 L181.5 496.5 L182.0 496.9 L182.5 498.1 L183.0 498.3 L183.5 498.8 L184.0 500.1 L184.5 500.1 L185.0 500.6 L185.5 500.9 L186.0 501.0 L186.5 501.2 L187.0 501.1 L187.5 501.7 L188.0 501.2 L188.5 501.2 L189.0 500.9 L189.5 501.0 L190.0 501.2 L190.5 501.9 L191.0 501.6 L191.5 501.2 L192.0 501.0 L192.5 501.7 L193.0 501.0 L193.5 501.2 L194.0 501.0 L194.5 501.2 L195.0 500.8 L195.5 501.0 L196.0 500.8 L196.5 500.8 L197.0 501.0 L197.5 500.7 L198.0 499.9 L198.5 499.4 L199.0 499.9 L199.5 499.7 L200.0 499.1 L200.5 499.5 L201.0 499.3 L201.5 499.2 L202.0 499.2 L202.5 498.5 L203.0 498.0 L203.5 498.3 L204.0 497.5 L204.5 497.6 L205.0 496.8 L205.5 497.0 L206.0 496.9 L206.5 497.1 L207.0 496.9 L207.5 496.3 L208.0 495.6 L208.5 495.0 L209.0 494.9 L209.5 494.8 L210.0 494.1 L210.5 494.5 L211.0 494.2 L211.5 494.2 L212.0 493.5 L212.5 493.0 L213.0 492.4 L213.5 492.3 L214.0 492.1 L214.5 492.1 L215.0 491.9 L215.5 492.2 L216.0 492.4 L216.5 491.6 L217.0 491.3 L217.5 490.9 L218.0 491.1 L218.5 491.5 L219.0 490.8 L219.5 491.0 L220.0 490.5 L220.5 489.9 L221.0 490.4 L221.5 490.2 L222.0 489.8 L222.5 489.9 L223.0 489.7 L223.5 489.8 L224.0 489.9 L224.5 490.0 L225.0 490.2 L225.5 490.0 L226.0 489.7 L226.5 489.6 L227.0 489.6 L227.5 490.1 L228.0 490.2 L228.5 490.8 L229.0 490.9 L229.5 491.3 L230.0 491.8 L230.5 491.2 L231.0 490.9 L231.5 490.9 L232.0 491.3 L232.5 491.8 L233.0 492.4 L233.5 492.4 L234.0 493.1 L234.5 492.6 L235.0 493.3 L235.5 493.2 L236.0 493.9 L236.5 493.5 L237.0 494.4 L237.5 494.8 L238.0 495.4 L238.5 495.4 L239.0 495.1 L239.5 495.9 L240.0 495.8 L240.5 495.5 L241.0 496.1 L241.5 496.3 L242.0 496.6 L242.5 496.5 L243.0 496.5 L243.5 497.1 L244.0 497.4 L244.5 497.3 L245.0 497.7 L245.5 498.3 L246.0 498.7 L246.5 498.7 L247.0 498.7 L247.5 498.8 L248.0 498.7 L248.5 498.6 L249.0 498.8 L249.5 498.4 L250.0 498.6 L250.5 498.3 L251.0 497.6 L251.5 496.1 L252.0 495.5 L252.5 495.7 L253.0 496.2 L253.5 498.1 L254.0 499.4 L254.5 500.1 L255.0 500.9 L255.5 500.8 L256.0 500.9 L256.5 501.3 L257.0 501.8 L257.5 502.0 L258.0 501.5 L258.5 501.9 L259.0 502.5 L259.5 502.7 L260.0 503.0 L260.5 503.3 L261.0 502.6 L261.5 502.3 L262.0 502.5 L262.5 503.1 L263.0 502.7 L263.5 503.2 L264.0 503.4 L264.5 503.1 L265.0 503.1 L265.5 503.5 L266.0 503.5 L266.5 503.0 L267.0 503.3 L267.5 502.8 L268.0 502.7 L268.5 503.3 L269.0 503.5 L269.5 503.0 L270.0 502.7 L270.5 503.0 L271.0 503.3 L271.5 503.3 L272.0 503.6 L272.5 503.6 L273.0 503.6 L273.5 503.4 L274.0 503.0 L274.5 502.9 L275.0 502.8 L275.5 502.9 L276.0 503.2 L276.5 502.7 L277.0 502.3 L277.5 502.7 L278.0 502.4 L278.5 502.4 L279.0 502.0 L279.5 502.5 L280.0 502.1 L280.5 501.8 L281.0 502.0 L281.5 501.3 L282.0 499.8 L282.5 497.7 L283.0 492.5 L283.5 483.8 L284.0 471.6 L284.5 455.4 L285.0 438.1 L285.5 423.6 L286.0 418.3 L286.5 423.8 L287.0 438.0 L287.5 454.9 L288.0 471.4 L288.5 484.3 L289.0 492.4 L289.5 497.4 L290.0 500.2 L290.5 501.7 L291.0 502.3 L291.5 502.5 L292.0 501.9 L292.5 502.0 L293.0 502.2 L293.5 501.6 L294.0 501.7 L294.5 502.2 L295.0 502.5 L295.5 502.6 L296.0 501.8 L296.5 501.8 L297.0 502.1 L297.5 501.9 L298.0 501.4 L298.5 500.8 L299.0 501.3 L299.5 501.5 L300.0 501.3 L300.5 500.7 L301.0 500.8 L301.5 500.8 L302.0 500.5 L302.5 500.1 L303.0 499.4 L303.5 498.9 L304.0 498.5 L304.5 498.0 L305.0 497.8 L305.5 497.0 L306.0 497.0 L306.5 496.3 L307.0 495.5 L307.5 494.8 L308.0 494.3 L308.5 493.6 L309.0 493.3" stroke="#3b6e64"/>
<path d="M48.5 548.6 L49.0 548.5 L49.5 548.2 L50.0 548.8 L50.5 548.2 L51.0 548.4 L51.5 549.0 L52.0 548.4 L52.5 548.6 L53.0 548.7 L53.5 548.2 L54.0 548.3 L54.5 548.7 L55.0 548.6 L55.5 548.9 L56.0 548.4 L56.5 548.2 L57.0 548.0 L57.5 548.3 L58.0 548.9 L58.5 548.9 L59.0 549.1 L59.5 548.7 L60.0 549.0 L60.5 548.4 L61.0 548.3 L61.5 548.6 L62.0 548.9 L62.5 548.7 L63.0 548.2 L63.5 548.1 L64.0 548.0 L64.5 548.0 L65.0 548.6 L65.5 548.3 L66.0 548.8 L66.5 549.1 L67.0 548.4 L67.5 548.3 L68.0 548.4 L68.5 547.9 L69.0 548.1 L69.5 548.7 L70.0 548.2 L70.5 548.4 L71.0 548.0 L71.5 548.2 L72.0 548.7 L72.5 548.2 L73.0 547.7 L73.5 547.4 L74.0 547.8 L74.5 547.3 L75.0 547.1 L75.5 547.4 L76.0 547.8 L76.5 547.2 L77.0 546.3 L77.5 544.6 L78.0 540.4 L78.5 534.0 L79.0 523.2 L79.5 509.2 L80.0 493.2 L80.5 477.3 L81.0 468.5 L81.5 469.7 L82.0 479.9 L82.5 495.7 L83.0 512.7 L83.5 526.8 L84.0 535.8 L84.5 542.0 L85.0 545.6 L85.5 546.6 L86.0 547.5 L86.5 547.3 L87.0 547.5 L87.5 548.0 L88.0 548.2 L88.5 548.5 L89.0 548.0 L89.5 548.0 L90.0 548.5 L90.5 548.6 L91.0 548.4 L91.5 548.3 L92.0 548.9 L92.5 548.8 L93.0 548.1 L93.5 548.6 L94.0 548.3 L94.5 548.3 L95.0 548.1 L95.5 548.2 L96.0 548.1 L96.5 547.8 L97.0 548.2 L97.5 547.9 L98.0 548.4 L98.5 547.9 L99.0 548.4 L99.5 548.7 L100.0 548.6 L100.5 548.7 L101.0 548.2 L101.5 548.5 L102.0 548.3 L102.5 548.0 L103.0 548.6 L103.5 548.2 L104.0 548.0 L104.5 548.4 L105.0 548.0 L105.5 548.1 L106.0 547.6 L106.5 548.0 L107.0 547.6 L107.5 547.0 L108.0 547.6 L108.5 547.0 L109.0 547.4 L109.5 547.4 L110.0 546.8 L110.5 545.5 L111.0 544.5 L111.5 543.7 L112.0 543.2 L112.5 542.9 L113.0 543.2 L113.5 542.9 L114.0 542.8 L114.5 543.5 L115.0 543.6 L115.5 543.7 L116.0 544.3 L116.5 544.8 L117.0 544.4 L117.5 544.5 L118.0 544.8 L118.5 544.9 L119.0 544.5 L119.5 544.7 L120.0 544.0 L120.5 544.0 L121.0 544.0 L121.5 544.1 L122.0 543.5 L122.5 542.7 L123.0 542.1 L123.5 542.1 L124.0 541.7 L124.5 541.8 L125.0 541.2 L125.5 541.5 L126.0 540.9 L126.5 540.3 L127.0 540.0 L127.5 540.0 L128.0 540.0 L128.5 539.8 L129.0 539.3 L129.5 539.2 L130.0 539.6 L130.5 539.3 L131.0 539.5 L131.5 538.5 L132.0 538.9 L132.5 539.0 L133.0 538.6 L133.5 538.2 L134.0 538.0 L134.5 538.3 L135.0 537.4 L135.5 537.5 L136.0 537.5 L136.5 537.1 L137.0 537.4 L137.5 537.5 L138.0 536.9 L138.5 537.3 L139.0 537.2 L139.5 537.2 L140.0 537.4 L140.5 536.9 L141.0 537.2 L141.5 537.2 L142.0 537.8 L142.5 537.5 L143.0 538.0 L143.5 538.3 L144.0 538.4 L144.5 538.8 L145.0 538.2 L145.5 538.5 L146.0 538.8 L146.5 539.2 L147.0 539.2 L147.5 538.9 L148.0 539.0 L148.5 539.6 L149.0 539.6 L149.5 539.5 L150.0 539.9 L150.5 540.4 L151.0 540.9 L151.5 540.6 L152.0 541.5 L152.5 541.6 L153.0 542.2 L153.5 541.8 L154.0 542.8 L154.5 543.0 L155.0 543.6 L155.5 544.1 L156.0 544.3 L156.5 543.7 L157.0 543.7 L157.5 543.7 L158.0 544.4 L158.5 544.2 L159.0 544.2 L159.5 544.1 L160.0 544.2 L160.5 545.2 L161.0 545.9 L161.5 545.6 L162.0 545.9 L162.5 545.8 L163.0 545.9 L163.5 545.8 L164.0 546.0 L164.5 545.8 L165.0 545.6 L165.5 545.9 L166.0 545.6 L166.5 545.8 L167.0 546.4 L167.5 545.7 L168.0 545.3 L168.5 545.9 L169.0 545.3 L169.5 545.1 L170.0 545.6 L170.5 545.5 L171.0 544.9 L171.5 544.2 L172.0 543.9 L172.5 543.7 L173.0 543.9 L173.5 544.0 L174.0 543.6 L174.5 543.2 L175.0 542.7 L175.5 542.1 L176.0 541.4" stroke="#6c8a54"/>
<path d="M181.0 538.9 L181.5 540.0 L182.0 541.1 L182.5 541.6 L183.0 542.8 L183.5 543.6 L184.0 544.1 L184.5 544.0 L185.0 544.4 L185.5 544.5 L186.0 544.6 L186.5 545.4 L187.0 546.0 L187.5 545.3 L188.0 545.8 L188.5 545.8 L189.0 545.6 L189.5 545.3 L190.0 545.6 L190.5 545.5 L191.0 545.7 L191.5 545.7 L192.0 545.1 L192.5 545.5 L193.0 545.8 L193.5 546.0 L194.0 545.6 L194.5 544.7 L195.0 544.1 L195.5 543.9 L196.0 544.5 L196.5 544.1 L197.0 543.9 L197.5 544.3 L198.0 543.8 L198.5 543.7 L199.0 543.4 L199.5 542.7 L200.0 542.9 L200.5 543.1 L201.0 542.4 L201.5 542.0 L202.0 541.9 L202.5 541.3 L203.0 541.3 L203.5 541.6 L204.0 541.5 L204.5 541.2 L205.0 541.3 L205.5 540.4 L206.0 540.3 L206.5 539.9 L207.0 539.8 L207.5 539.1 L208.0 539.4 L208.5 538.7 L209.0 538.2 L209.5 538.6 L210.0 538.9 L210.5 538.4 L211.0 538.0 L211.5 537.5 L212.0 537.1 L212.5 537.3 L213.0 536.8 L213.5 536.4 L214.0 536.5 L214.5 536.1 L215.0 536.4 L215.5 536.7 L216.0 536.8 L216.5 536.5 L217.0 536.1 L217.5 536.0 L218.0 535.5 L218.5 535.9 L219.0 535.8 L219.5 535.7 L220.0 535.4 L220.5 535.6 L221.0 535.9 L221.5 535.9 L222.0 536.5 L222.5 536.6 L223.0 536.3 L223.5 536.4 L224.0 537.0 L224.5 537.0 L225.0 537.1 L225.5 536.7 L226.0 537.0 L226.5 537.2 L227.0 537.3 L227.5 537.5 L228.0 537.9 L228.5 538.2 L229.0 538.4 L229.5 538.2 L230.0 538.6 L230.5 539.4 L231.0 539.4 L231.5 539.1 L232.0 539.0 L232.5 539.6 L233.0 539.6 L233.5 539.7 L234.0 539.9 L234.5 540.5 L235.0 541.5 L235.5 541.6 L236.0 541.7 L236.5 541.9 L237.0 542.1 L237.5 542.3 L238.0 542.8 L238.5 543.4 L239.0 543.6 L239.5 543.5 L240.0 543.7 L240.5 544.2 L241.0 543.8 L241.5 543.7 L242.0 544.1 L242.5 544.5 L243.0 544.8 L243.5 544.9 L244.0 545.3 L244.5 545.2 L245.0 545.6 L245.5 546.0 L246.0 545.7 L246.5 546.0 L247.0 546.1 L247.5 546.4 L248.0 545.6 L248.5 546.2 L249.0 546.4 L249.5 546.8 L250.0 547.0 L250.5 546.4 L251.0 546.5 L251.5 546.1 L252.0 546.3 L252.5 546.8 L253.0 546.3 L253.5 546.2 L254.0 545.9 L254.5 545.9 L255.0 545.9 L255.5 545.8 L256.0 546.7 L256.5 547.1 L257.0 546.9 L257.5 547.1 L258.0 547.1 L258.5 547.0 L259.0 546.8 L259.5 546.9 L260.0 546.9 L260.5 546.6 L261.0 546.5 L261.5 546.8 L262.0 546.9 L262.5 546.5 L263.0 546.7 L263.5 547.1 L264.0 547.4 L264.5 547.2 L265.0 546.5 L265.5 546.5 L266.0 546.1 L266.5 545.8 L267.0 545.9 L267.5 546.1 L268.0 546.5 L268.5 546.6 L269.0 546.2 L269.5 546.4 L270.0 546.2 L270.5 546.0 L271.0 545.3 L271.5 544.6 L272.0 542.9 L272.5 539.9 L273.0 533.7 L273.5 523.7 L274.0 509.7 L274.5 493.0 L275.0 477.0 L275.5 466.2 L276.0 465.3 L276.5 474.2 L277.0 490.0 L277.5 507.2 L278.0 522.2 L278.5 532.7 L279.0 538.7 L279.5 542.9 L280.0 545.0 L280.5 545.0 L281.0 545.4 L281.5 545.5 L282.0 546.1 L282.5 546.2 L283.0 546.0 L283.5 545.8 L284.0 545.6 L284.5 545.5 L285.0 546.1 L285.5 546.7 L286.0 546.2 L286.5 546.5 L287.0 546.8 L287.5 546.2 L288.0 546.2 L288.5 546.1 L289.0 546.6 L289.5 546.7 L290.0 545.8 L290.5 545.5 L291.0 546.0 L291.5 546.0 L292.0 545.9 L292.5 546.1 L293.0 546.1 L293.5 546.3 L294.0 545.6 L294.5 544.9 L295.0 545.2 L295.5 544.5 L296.0 544.7 L296.5 545.0 L297.0 544.6 L297.5 544.6 L298.0 544.0 L298.5 543.5 L299.0 543.7 L299.5 543.9 L300.0 544.1 L300.5 543.0 L301.0 543.2 L301.5 542.7 L302.0 542.1 L302.5 541.7 L303.0 541.5 L303.5 540.9 L304.0 540.1 L304.5 540.3 L305.0 539.9 L305.5 539.4 L306.0 538.9 L306.5 538.6 L307.0 537.3 L307.5 536.9 L308.0 536.3 L308.5 535.0 L309.0 534.1" stroke="#6c8a54"/>
<path d="M48.5 592.7 L49.0 592.8 L49.5 593.3 L50.0 593.0 L50.5 592.9 L51.0 593.0 L51.5 592.5 L52.0 592.7 L52.5 592.9 L53.0 593.2 L53.5 592.5 L54.0 592.4 L54.5 592.1 L55.0 592.8 L55.5 593.0 L56.0 592.4 L56.5 593.1 L57.0 593.5 L57.5 593.3 L58.0 593.2 L58.5 592.6 L59.0 592.2 L59.5 592.5 L60.0 592.1 L60.5 592.1 L61.0 592.1 L61.5 591.9 L62.0 592.3 L62.5 592.4 L63.0 593.0 L63.5 592.9 L64.0 593.0 L64.5 592.9 L65.0 593.0 L65.5 592.9 L66.0 592.6 L66.5 593.2 L67.0 593.6 L67.5 593.6 L68.0 593.5 L68.5 592.9 L69.0 592.6 L69.5 592.4 L70.0 592.1 L70.5 592.7 L71.0 592.6 L71.5 593.1 L72.0 592.8 L72.5 593.3 L73.0 593.4 L73.5 592.6 L74.0 592.3 L74.5 593.0 L75.0 592.8 L75.5 593.3 L76.0 593.0 L76.5 592.4 L77.0 592.7 L77.5 593.0 L78.0 592.6 L78.5 592.2 L79.0 592.3 L79.5 593.0 L80.0 593.2 L80.5 592.5 L81.0 592.3 L81.5 592.1 L82.0 591.9 L82.5 592.6 L83.0 592.3 L83.5 592.5 L84.0 592.5 L84.5 592.2 L85.0 592.7 L85.5 592.2 L86.0 592.5 L86.5 592.1 L87.0 592.2 L87.5 592.0 L88.0 592.0 L88.5 592.7 L89.0 592.8 L89.5 592.3 L90.0 592.5 L90.5 591.5 L91.0 590.4 L91.5 588.9 L92.0 585.4 L92.5 579.3 L93.0 572.3 L93.5 563.0 L94.0 554.7 L94.5 550.4 L95.0 550.7 L95.5 556.2 L96.0 564.3 L96.5 572.8 L97.0 580.5 L97.5 585.5 L98.0 589.0 L98.5 590.6 L99.0 591.5 L99.5 592.5 L100.0 592.5 L100.5 592.6 L101.0 592.9 L101.5 592.4 L102.0 592.1 L102.5 592.8 L103.0 593.0 L103.5 592.6 L104.0 592.2 L104.5 592.7 L105.0 593.1 L105.5 592.6 L106.0 593.1 L106.5 593.3 L107.0 593.1 L107.5 592.8 L108.0 592.3 L108.5 591.9 L109.0 592.8 L109.5 592.4 L110.0 592.7 L110.5 592.4 L111.0 592.8 L111.5 592.8 L112.0 592.5 L112.5 592.1 L113.0 592.5 L113.5 592.0 L114.0 591.9 L114.5 592.2 L115.0 592.7 L115.5 592.6 L116.0 592.2 L116.5 592.7 L117.0 592.2 L117.5 591.6 L118.0 591.6 L118.5 591.7 L119.0 591.4 L119.5 591.3 L120.0 591.4 L120.5 591.6 L121.0 591.3 L121.5 591.3 L122.0 591.8 L122.5 592.2 L123.0 592.0 L123.5 591.9 L124.0 591.6 L124.5 591.0 L125.0 590.4 L125.5 590.1 L126.0 590.8 L126.5 590.9 L127.0 591.2 L127.5 590.3 L128.0 590.4 L128.5 590.2 L129.0 590.3 L129.5 589.9 L130.0 590.3 L130.5 589.4 L131.0 589.4 L131.5 589.6 L132.0 589.7 L132.5 589.6 L133.0 589.4 L133.5 589.3 L134.0 589.3 L134.5 588.7 L135.0 588.6 L135.5 588.7 L136.0 588.7 L136.5 588.1 L137.0 588.2 L137.5 588.2 L138.0 587.8 L138.5 587.6 L139.0 587.2 L139.5 587.1 L140.0 587.1 L140.5 586.4 L141.0 586.7 L141.5 587.1 L142.0 587.2 L142.5 587.1 L143.0 586.6 L143.5 586.7 L144.0 586.6 L144.5 586.4 L145.0 586.7 L145.5 586.0 L146.0 586.4 L146.5 585.8 L147.0 586.1 L147.5 586.1 L148.0 585.9 L148.5 586.3 L149.0 586.4 L149.5 586.5 L150.0 587.0 L150.5 586.6 L151.0 586.1 L151.5 586.2 L152.0 586.7 L152.5 586.5 L153.0 586.4 L153.5 587.2 L154.0 587.4 L154.5 587.4 L155.0 587.9 L155.5 587.6 L156.0 587.8 L156.5 587.5 L157.0 587.6 L157.5 588.2 L158.0 588.6 L158.5 588.9 L159.0 588.5 L159.5 588.6 L160.0 588.3 L160.5 588.0 L161.0 588.3 L161.5 588.8 L162.0 589.2 L162.5 589.2 L163.0 589.5 L163.5 588.9 L164.0 588.4 L164.5 588.5 L165.0 588.3 L165.5 588.1 L166.0 588.1 L166.5 588.3 L167.0 588.2 L167.5 587.9 L168.0 588.2 L168.5 588.4 L169.0 587.8 L169.5 587.0 L170.0 586.3 L170.5 586.6 L171.0 585.7 L171.5 585.8 L172.0 585.4 L172.5 584.6 L173.0 584.5 L173.5 583.2 L174.0 582.3 L174.5 581.8 L175.0 580.6 L175.5 580.4 L176.0 579.1" stroke="#9a8a42"/>
<path d="M181.0 579.0 L181.5 580.0 L182.0 580.9 L182.5 581.0 L183.0 581.2 L183.5 581.9 L184.0 582.4 L184.5 583.4 L185.0 584.0 L185.5 584.3 L186.0 584.6 L186.5 584.9 L187.0 584.7 L187.5 584.9 L188.0 584.8 L188.5 585.7 L189.0 585.3 L189.5 585.9 L190.0 585.5 L190.5 586.0 L191.0 586.0 L191.5 586.1 L192.0 586.6 L192.5 586.0 L193.0 585.8 L193.5 586.6 L194.0 586.6 L194.5 586.1 L195.0 586.8 L195.5 587.0 L196.0 586.1 L196.5 585.9 L197.0 585.3 L197.5 585.0 L198.0 585.2 L198.5 584.9 L199.0 585.5 L199.5 585.3 L200.0 585.5 L200.5 586.5 L201.0 586.7 L201.5 586.9 L202.0 587.3 L202.5 587.4 L203.0 587.4 L203.5 587.0 L204.0 587.6 L204.5 588.3 L205.0 588.6 L205.5 588.5 L206.0 588.1 L206.5 587.9 L207.0 588.2 L207.5 588.4 L208.0 587.9 L208.5 587.7 L209.0 587.8 L209.5 588.1 L210.0 588.5 L210.5 588.5 L211.0 587.9 L211.5 588.5 L212.0 588.5 L212.5 588.5 L213.0 588.3 L213.5 588.4 L214.0 588.4 L214.5 588.8 L215.0 588.4 L215.5 588.6 L216.0 588.4 L216.5 588.8 L217.0 588.4 L217.5 588.4 L218.0 588.5 L218.5 588.9 L219.0 588.5 L219.5 588.8 L220.0 588.6 L220.5 588.7 L221.0 588.9 L221.5 589.6 L222.0 589.5 L222.5 589.9 L223.0 589.3 L223.5 589.9 L224.0 589.6 L224.5 589.2 L225.0 589.7 L225.5 590.1 L226.0 589.4 L226.5 589.3 L227.0 589.8 L227.5 589.6 L228.0 589.4 L228.5 589.1 L229.0 589.0 L229.5 589.5 L230.0 590.3 L230.5 590.7 L231.0 590.4 L231.5 589.8 L232.0 589.8 L232.5 590.3 L233.0 590.6 L233.5 590.6 L234.0 590.2 L234.5 590.3 L235.0 590.3 L235.5 590.5 L236.0 590.2 L236.5 590.9 L237.0 591.2 L237.5 590.5 L238.0 590.4 L238.5 590.9 L239.0 590.6 L239.5 591.1 L240.0 591.0 L240.5 591.1 L241.0 591.2 L241.5 590.8 L242.0 590.6 L242.5 590.5 L243.0 590.9 L243.5 591.2 L244.0 590.8 L244.5 591.4 L245.0 591.2 L245.5 590.9 L246.0 591.0 L246.5 591.7 L247.0 591.6 L247.5 591.6 L248.0 592.0 L248.5 592.2 L249.0 592.2 L249.5 591.8 L250.0 591.8 L250.5 592.1 L251.0 592.2 L251.5 592.0 L252.0 591.7 L252.5 591.5 L253.0 591.8 L253.5 591.8 L254.0 591.2 L254.5 591.7 L255.0 592.1 L255.5 592.2 L256.0 592.3 L256.5 592.4 L257.0 591.9 L257.5 591.8 L258.0 590.9 L258.5 589.4 L259.0 587.3 L259.5 583.7 L260.0 578.6 L260.5 570.9 L261.0 561.8 L261.5 553.6 L262.0 548.2 L262.5 548.9 L263.0 554.9 L263.5 563.4 L264.0 572.0 L264.5 579.4 L265.0 584.6 L265.5 588.2 L266.0 589.5 L266.5 590.1 L267.0 590.6 L267.5 591.3 L268.0 591.7 L268.5 591.8 L269.0 592.2 L269.5 591.8 L270.0 591.2 L270.5 591.4 L271.0 591.5 L271.5 591.2 L272.0 591.6 L272.5 591.5 L273.0 591.3 L273.5 591.3 L274.0 592.0 L274.5 591.3 L275.0 591.3 L275.5 591.2 L276.0 591.1 L276.5 591.3 L277.0 591.1 L277.5 591.8 L278.0 591.7 L278.5 591.9 L279.0 591.3 L279.5 591.4 L280.0 591.6 L280.5 591.9 L281.0 591.4 L281.5 591.4 L282.0 591.8 L282.5 591.9 L283.0 591.3 L283.5 591.4 L284.0 591.6 L284.5 591.3 L285.0 591.4 L285.5 591.4 L286.0 591.8 L286.5 591.4 L287.0 591.4 L287.5 591.0 L288.0 591.1 L288.5 590.7 L289.0 590.6 L289.5 590.4 L290.0 590.2 L290.5 589.8 L291.0 589.7 L291.5 589.9 L292.0 589.6 L292.5 589.2 L293.0 589.7 L293.5 589.4 L294.0 589.9 L294.5 589.7 L295.0 589.2 L295.5 589.5 L296.0 589.5 L296.5 588.8 L297.0 588.1 L297.5 588.2 L298.0 588.3 L298.5 588.0 L299.0 587.9 L299.5 587.3 L300.0 587.0 L300.5 586.3 L301.0 585.9 L301.5 585.5 L302.0 585.1 L302.5 584.6 L303.0 584.6 L303.5 583.7 L304.0 583.0 L304.5 582.3 L305.0 582.5 L305.5 581.8 L306.0 580.6 L306.5 580.4 L307.0 580.0 L307.5 579.4 L308.0 578.1 L308.5 577.3 L309.0 576.0" stroke="#9a8a42"/>
<path d="M48.5 636.3 L49.0 636.6 L49.5 636.8 L50.0 637.0 L50.5 636.5 L51.0 636.2 L51.5 635.9 L52.0 635.8 L52.5 636.3 L53.0 636.0 L53.5 636.2 L54.0 635.9 L54.5 635.9 L55.0 636.0 L55.5 636.5 L56.0 636.5 L56.5 635.9 L57.0 635.8 L57.5 635.6 L58.0 636.3 L58.5 636.5 L59.0 636.7 L59.5 636.8 L60.0 636.7 L60.5 636.9 L61.0 636.9 L61.5 636.2 L62.0 636.5 L62.5 636.3 L63.0 636.4 L63.5 636.3 L64.0 636.0 L64.5 635.8 L65.0 635.8 L65.5 635.6 L66.0 635.3 L66.5 635.9 L67.0 636.2 L67.5 636.5 L68.0 636.4 L68.5 636.2 L69.0 636.2 L69.5 635.6 L70.0 635.8 L70.5 635.7 L71.0 635.3 L71.5 635.1 L72.0 635.3 L72.5 635.2 L73.0 635.3 L73.5 635.5 L74.0 635.4 L74.5 635.0 L75.0 635.2 L75.5 635.0 L76.0 634.9 L76.5 634.8 L77.0 634.9 L77.5 634.6 L78.0 635.1 L78.5 635.7 L79.0 635.4 L79.5 635.6 L80.0 635.9 L80.5 635.1 L81.0 634.8 L81.5 635.3 L82.0 635.6 L82.5 635.5 L83.0 635.0 L83.5 634.9 L84.0 635.4 L84.5 635.7 L85.0 635.7 L85.5 635.1 L86.0 635.4 L86.5 635.1 L87.0 635.3 L87.5 634.7 L88.0 635.3 L88.5 635.2 L89.0 635.3 L89.5 634.8 L90.0 634.9 L90.5 635.0 L91.0 635.0 L91.5 634.7 L92.0 635.0 L92.5 634.7 L93.0 634.5 L93.5 634.2 L94.0 634.6 L94.5 634.2 L95.0 634.1 L95.5 633.8 L96.0 634.3 L96.5 634.5 L97.0 634.5 L97.5 634.0 L98.0 634.1 L98.5 634.1 L99.0 633.8 L99.5 633.5 L100.0 634.4 L100.5 634.0 L101.0 633.9 L101.5 633.8 L102.0 634.1 L102.5 633.7 L103.0 633.9 L103.5 633.8 L104.0 634.3 L104.5 633.6 L105.0 633.6 L105.5 633.8 L106.0 634.3 L106.5 634.1 L107.0 633.8 L107.5 633.7 L108.0 632.8 L108.5 631.2 L109.0 629.5 L109.5 626.8 L110.0 622.4 L110.5 616.4 L111.0 611.4 L111.5 608.1 L112.0 607.2 L112.5 610.3 L113.0 615.2 L113.5 620.4 L114.0 625.1 L114.5 628.4 L115.0 630.7 L115.5 631.6 L116.0 632.5 L116.5 632.5 L117.0 633.2 L117.5 633.5 L118.0 632.9 L118.5 633.5 L119.0 633.1 L119.5 633.3 L120.0 633.4 L120.5 633.2 L121.0 633.1 L121.5 633.2 L122.0 632.9 L122.5 633.5 L123.0 633.0 L123.5 633.5 L124.0 633.1 L124.5 633.0 L125.0 633.0 L125.5 632.6 L126.0 632.5 L126.5 632.7 L127.0 632.9 L127.5 633.4 L128.0 633.9 L128.5 633.0 L129.0 633.1 L129.5 632.7 L130.0 633.2 L130.5 632.9 L131.0 633.3 L131.5 633.1 L132.0 632.5 L132.5 631.9 L133.0 631.9 L133.5 632.5 L134.0 632.0 L134.5 632.0 L135.0 631.9 L135.5 631.7 L136.0 632.1 L136.5 631.6 L137.0 631.9 L137.5 631.9 L138.0 632.2 L138.5 631.8 L139.0 632.0 L139.5 631.6 L140.0 631.4 L140.5 631.3 L141.0 631.5 L141.5 631.6 L142.0 630.7 L142.5 630.2 L143.0 630.3 L143.5 630.7 L144.0 630.5 L144.5 630.1 L145.0 630.5 L145.5 630.0 L146.0 629.4 L146.5 629.0 L147.0 628.7 L147.5 629.3 L148.0 628.9 L148.5 629.2 L149.0 629.6 L149.5 629.8 L150.0 629.7 L150.5 629.2 L151.0 629.0 L151.5 629.1 L152.0 629.0 L152.5 628.4 L153.0 628.5 L153.5 627.8 L154.0 627.6 L154.5 628.2 L155.0 627.8 L155.5 627.4 L156.0 627.6 L156.5 627.3 L157.0 626.6 L157.5 626.1 L158.0 626.1 L158.5 626.0 L159.0 626.6 L159.5 626.1 L160.0 626.4 L160.5 626.4 L161.0 625.9 L161.5 626.2 L162.0 626.0 L162.5 625.4 L163.0 624.8 L163.5 624.6 L164.0 624.8 L164.5 624.5 L165.0 623.8 L165.5 623.4 L166.0 623.3 L166.5 622.7 L167.0 622.7 L167.5 621.9 L168.0 622.2 L168.5 621.5 L169.0 620.9 L169.5 620.9 L170.0 620.4 L170.5 620.6 L171.0 620.1 L171.5 619.6 L172.0 619.5 L172.5 618.5 L173.0 618.3 L173.5 617.8 L174.0 617.0 L174.5 616.9 L175.0 615.5 L175.5 615.3 L176.0 614.1" stroke="#d89e5e"/>
<path d="M181.0 618.3 L181.5 618.9 L182.0 619.3 L182.5 619.8 L183.0 619.5 L183.5 619.4 L184.0 619.9 L184.5 620.2 L185.0 620.0 L185.5 620.4 L186.0 620.4 L186.5 620.8 L187.0 620.4 L187.5 620.4 L188.0 621.2 L188.5 621.1 L189.0 621.0 L189.5 621.6 L190.0 621.8 L190.5 621.5 L191.0 621.8 L191.5 622.1 L192.0 621.8 L192.5 622.2 L193.0 621.8 L193.5 621.9 L194.0 621.5 L194.5 621.4 L195.0 622.0 L195.5 621.6 L196.0 621.8 L196.5 621.3 L197.0 621.1 L197.5 621.6 L198.0 621.9 L198.5 621.8 L199.0 622.6 L199.5 623.3 L200.0 623.4 L200.5 623.5 L201.0 624.6 L201.5 624.8 L202.0 624.7 L202.5 625.0 L203.0 625.0 L203.5 625.7 L204.0 625.8 L204.5 625.5 L205.0 626.2 L205.5 625.9 L206.0 625.9 L206.5 625.8 L207.0 626.5 L207.5 626.3 L208.0 626.7 L208.5 626.5 L209.0 626.9 L209.5 627.4 L210.0 627.6 L210.5 627.6 L211.0 627.8 L211.5 627.8 L212.0 628.1 L212.5 627.8 L213.0 628.1 L213.5 628.0 L214.0 628.8 L214.5 629.3 L215.0 628.7 L215.5 628.5 L216.0 629.1 L216.5 629.3 L217.0 628.9 L217.5 629.4 L218.0 630.1 L218.5 629.9 L219.0 629.8 L219.5 630.0 L220.0 630.6 L220.5 630.2 L221.0 630.1 L221.5 630.0 L222.0 630.5 L222.5 630.6 L223.0 630.5 L223.5 630.6 L224.0 630.3 L224.5 630.5 L225.0 631.4 L225.5 631.6 L226.0 631.3 L226.5 632.0 L227.0 631.7 L227.5 631.5 L228.0 631.2 L228.5 631.2 L229.0 631.3 L229.5 631.4 L230.0 632.3 L230.5 632.1 L231.0 632.0 L231.5 632.4 L232.0 633.0 L232.5 632.7 L233.0 633.1 L233.5 632.9 L234.0 633.0 L234.5 633.1 L235.0 633.6 L235.5 633.7 L236.0 633.5 L236.5 633.8 L237.0 633.5 L237.5 633.3 L238.0 633.9 L238.5 633.7 L239.0 633.9 L239.5 633.5 L240.0 633.8 L240.5 633.6 L241.0 632.8 L241.5 632.6 L242.0 630.9 L242.5 628.0 L243.0 623.5 L243.5 617.1 L244.0 609.8 L244.5 603.2 L245.0 598.2 L245.5 597.6 L246.0 601.8 L246.5 608.8 L247.0 616.1 L247.5 622.9 L248.0 627.2 L248.5 630.0 L249.0 631.7 L249.5 632.2 L250.0 632.5 L250.5 632.6 L251.0 633.3 L251.5 633.0 L252.0 633.4 L252.5 633.2 L253.0 633.5 L253.5 633.7 L254.0 633.5 L254.5 634.1 L255.0 634.0 L255.5 633.9 L256.0 633.3 L256.5 633.4 L257.0 633.2 L257.5 633.4 L258.0 634.0 L258.5 634.3 L259.0 633.5 L259.5 633.8 L260.0 634.2 L260.5 634.0 L261.0 633.4 L261.5 633.9 L262.0 633.7 L262.5 634.2 L263.0 634.4 L263.5 634.4 L264.0 634.6 L264.5 633.7 L265.0 634.0 L265.5 633.6 L266.0 633.2 L266.5 633.3 L267.0 633.5 L267.5 633.0 L268.0 633.2 L268.5 633.7 L269.0 633.7 L269.5 633.7 L270.0 633.4 L270.5 634.0 L271.0 633.5 L271.5 633.7 L272.0 633.8 L272.5 633.1 L273.0 633.8 L273.5 633.4 L274.0 634.0 L274.5 634.2 L275.0 634.3 L275.5 634.3 L276.0 633.8 L276.5 633.5 L277.0 633.3 L277.5 633.8 L278.0 633.1 L278.5 632.8 L279.0 633.5 L279.5 633.7 L280.0 633.7 L280.5 634.0 L281.0 633.6 L281.5 633.7 L282.0 633.4 L282.5 633.6 L283.0 632.9 L283.5 632.8 L284.0 632.9 L284.5 633.2 L285.0 632.9 L285.5 633.0 L286.0 633.4 L286.5 632.9 L287.0 632.4 L287.5 631.9 L288.0 632.5 L288.5 632.4 L289.0 632.2 L289.5 632.1 L290.0 631.7 L290.5 631.5 L291.0 631.3 L291.5 631.2 L292.0 631.7 L292.5 631.3 L293.0 630.8 L293.5 631.4 L294.0 631.3 L294.5 630.5 L295.0 630.8 L295.5 630.8 L296.0 630.8 L296.5 630.7 L297.0 630.3 L297.5 629.7 L298.0 629.8 L298.5 629.7 L299.0 629.5 L299.5 628.8 L300.0 628.4 L300.5 628.4 L301.0 628.0 L301.5 627.8 L302.0 627.4 L302.5 627.3 L303.0 626.6 L303.5 626.2 L304.0 626.1 L304.5 625.3 L305.0 624.5 L305.5 624.3 L306.0 623.3 L306.5 623.3 L307.0 622.4 L307.5 622.3 L308.0 621.5 L308.5 620.3 L309.0 619.7" stroke="#d89e5e"/>
<path d="M48.5 683.8 L49.0 683.3 L49.5 683.6 L50.0 683.3 L50.5 683.7 L51.0 683.3 L51.5 683.6 L52.0 683.7 L52.5 683.8 L53.0 684.0 L53.5 683.6 L54.0 683.4 L54.5 683.6 L55.0 683.4 L55.5 683.3 L56.0 683.2 L56.5 683.6 L57.0 683.8 L57.5 683.8 L58.0 683.5 L58.5 683.8 L59.0 683.7 L59.5 683.4 L60.0 683.4 L60.5 683.4 L61.0 683.2 L61.5 683.3 L62.0 683.3 L62.5 683.4 L63.0 683.7 L63.5 683.7 L64.0 683.6 L64.5 683.8 L65.0 684.0 L65.5 683.7 L66.0 683.9 L66.5 683.4 L67.0 683.2 L67.5 683.1 L68.0 683.6 L68.5 683.7 L69.0 683.7 L69.5 683.5 L70.0 683.5 L70.5 683.7 L71.0 683.4 L71.5 683.2 L72.0 683.0 L72.5 683.2 L73.0 683.6 L73.5 683.6 L74.0 683.5 L74.5 683.5 L75.0 683.3 L75.5 683.7 L76.0 683.5 L76.5 683.3 L77.0 683.3 L77.5 683.6 L78.0 683.4 L78.5 683.7 L79.0 683.5 L79.5 683.5 L80.0 683.2 L80.5 683.6 L81.0 683.7 L81.5 683.6 L82.0 683.3 L82.5 683.4 L83.0 683.3 L83.5 683.6 L84.0 683.8 L84.5 683.8 L85.0 683.5 L85.5 683.2 L86.0 683.6 L86.5 683.8 L87.0 683.4 L87.5 683.5 L88.0 683.5 L88.5 683.8 L89.0 683.3 L89.5 683.1 L90.0 683.5 L90.5 683.5 L91.0 683.5 L91.5 683.7 L92.0 683.6 L92.5 683.7 L93.0 683.4 L93.5 683.2 L94.0 683.0 L94.5 683.1 L95.0 683.3 L95.5 683.3 L96.0 683.3 L96.5 683.4 L97.0 683.6 L97.5 683.6 L98.0 683.4 L98.5 683.6 L99.0 683.7 L99.5 683.9 L100.0 683.9 L100.5 683.4 L101.0 683.5 L101.5 683.4 L102.0 683.3 L102.5 683.4 L103.0 683.2 L103.5 683.1 L104.0 683.6 L104.5 683.4 L105.0 683.7 L105.5 683.7 L106.0 683.4 L106.5 683.3 L107.0 683.4 L107.5 683.5 L108.0 683.3 L108.5 683.0 L109.0 682.9 L109.5 683.3 L110.0 683.4 L110.5 683.1 L111.0 683.3 L111.5 683.2 L112.0 683.0 L112.5 683.1 L113.0 682.5 L113.5 681.4 L114.0 679.3 L114.5 674.9 L115.0 666.6 L115.5 655.4 L116.0 645.0 L116.5 640.1 L117.0 645.0 L117.5 655.2 L118.0 666.7 L118.5 674.7 L119.0 679.6 L119.5 682.0 L120.0 682.8 L120.5 683.1 L121.0 683.1 L121.5 683.3 L122.0 683.2 L122.5 683.0 L123.0 683.2 L123.5 683.2 L124.0 683.0 L124.5 683.2 L125.0 683.2 L125.5 683.0 L126.0 683.3 L126.5 683.5 L127.0 683.3 L127.5 683.6 L128.0 683.8 L128.5 683.7 L129.0 683.5 L129.5 683.2 L130.0 683.0 L130.5 683.0 L131.0 683.5 L131.5 683.1 L132.0 683.4 L132.5 683.5 L133.0 683.5 L133.5 683.1 L134.0 683.1 L134.5 682.8 L135.0 682.8 L135.5 682.6 L136.0 682.2 L136.5 681.6 L137.0 681.2 L137.5 680.5 L138.0 680.4 L138.5 681.3 L139.0 681.5 L139.5 682.0 L140.0 682.4 L140.5 683.0 L141.0 683.0 L141.5 683.1 L142.0 683.1 L142.5 683.1 L143.0 683.1 L143.5 683.1 L144.0 683.1 L144.5 683.1 L145.0 683.0 L145.5 683.3 L146.0 683.5 L146.5 683.1 L147.0 683.3 L147.5 682.8 L148.0 682.7 L148.5 683.0 L149.0 682.6 L149.5 682.7 L150.0 682.9 L150.5 682.7 L151.0 682.3 L151.5 681.7 L152.0 681.5 L152.5 681.2 L153.0 680.9 L153.5 680.2 L154.0 679.7 L154.5 678.6 L155.0 677.7 L155.5 676.6 L156.0 675.0 L156.5 673.9 L157.0 672.4 L157.5 670.9 L158.0 670.0 L158.5 669.0 L159.0 668.6 L159.5 668.5 L160.0 669.0 L160.5 670.4 L161.0 671.6 L161.5 673.1 L162.0 674.6 L162.5 676.0 L163.0 676.9 L163.5 678.2 L164.0 679.0 L164.5 679.5 L165.0 680.4 L165.5 681.1 L166.0 681.1 L166.5 681.7 L167.0 681.9 L167.5 681.7 L168.0 681.9 L168.5 682.2 L169.0 681.8 L169.5 681.9 L170.0 681.6 L170.5 681.4 L171.0 681.7 L171.5 681.8 L172.0 681.5 L172.5 681.4 L173.0 680.9 L173.5 680.5 L174.0 680.2 L174.5 680.0 L175.0 679.6 L175.5 678.9 L176.0 678.4" stroke="#f5a596"/>
<path d="M181.0 677.7 L181.5 678.2 L182.0 678.5 L182.5 678.8 L183.0 679.1 L183.5 679.5 L184.0 679.5 L184.5 679.8 L185.0 679.5 L185.5 679.6 L186.0 679.7 L186.5 679.7 L187.0 680.1 L187.5 680.0 L188.0 680.2 L188.5 680.5 L189.0 680.1 L189.5 680.3 L190.0 680.3 L190.5 680.2 L191.0 679.5 L191.5 679.4 L192.0 679.2 L192.5 678.6 L193.0 678.0 L193.5 677.3 L194.0 676.5 L194.5 675.8 L195.0 674.5 L195.5 673.2 L196.0 671.8 L196.5 670.6 L197.0 668.8 L197.5 667.1 L198.0 666.6 L198.5 666.3 L199.0 666.5 L199.5 667.2 L200.0 668.1 L200.5 669.4 L201.0 670.9 L201.5 672.5 L202.0 673.7 L202.5 675.3 L203.0 676.5 L203.5 677.0 L204.0 678.1 L204.5 678.7 L205.0 679.4 L205.5 679.6 L206.0 680.0 L206.5 680.0 L207.0 680.2 L207.5 680.2 L208.0 680.0 L208.5 679.9 L209.0 680.0 L209.5 680.2 L210.0 680.2 L210.5 680.4 L211.0 680.6 L211.5 680.5 L212.0 680.5 L212.5 680.5 L213.0 680.9 L213.5 681.0 L214.0 680.9 L214.5 681.0 L215.0 680.7 L215.5 680.4 L216.0 680.2 L216.5 680.1 L217.0 679.8 L217.5 680.0 L218.0 680.1 L218.5 679.4 L219.0 679.2 L219.5 679.2 L220.0 679.2 L220.5 679.1 L221.0 679.6 L221.5 679.8 L222.0 680.0 L222.5 680.0 L223.0 680.4 L223.5 680.8 L224.0 680.5 L224.5 680.4 L225.0 680.5 L225.5 680.3 L226.0 680.5 L226.5 680.8 L227.0 680.8 L227.5 680.5 L228.0 680.3 L228.5 680.4 L229.0 680.7 L229.5 681.0 L230.0 680.9 L230.5 680.6 L231.0 680.5 L231.5 680.6 L232.0 680.4 L232.5 680.3 L233.0 680.5 L233.5 680.8 L234.0 680.6 L234.5 680.9 L235.0 681.0 L235.5 680.7 L236.0 680.4 L236.5 680.1 L237.0 680.1 L237.5 679.7 L238.0 678.3 L238.5 674.4 L239.0 667.9 L239.5 657.8 L240.0 646.1 L240.5 636.5 L241.0 633.7 L241.5 639.6 L242.0 651.2 L242.5 662.3 L243.0 670.9 L243.5 676.1 L244.0 678.7 L244.5 679.9 L245.0 680.3 L245.5 680.5 L246.0 680.3 L246.5 680.6 L247.0 680.8 L247.5 680.9 L248.0 680.7 L248.5 680.7 L249.0 681.0 L249.5 681.1 L250.0 680.7 L250.5 680.7 L251.0 680.5 L251.5 680.8 L252.0 680.8 L252.5 680.8 L253.0 680.6 L253.5 680.7 L254.0 681.0 L254.5 681.0 L255.0 680.8 L255.5 680.8 L256.0 680.9 L256.5 680.6 L257.0 681.0 L257.5 680.7 L258.0 680.9 L258.5 680.7 L259.0 681.1 L259.5 681.2 L260.0 680.9 L260.5 680.9 L261.0 681.2 L261.5 681.3 L262.0 681.2 L262.5 681.2 L263.0 681.3 L263.5 681.4 L264.0 681.2 L264.5 681.2 L265.0 681.3 L265.5 681.1 L266.0 680.9 L266.5 681.0 L267.0 680.9 L267.5 681.0 L268.0 681.2 L268.5 681.3 L269.0 680.9 L269.5 680.6 L270.0 681.0 L270.5 681.2 L271.0 681.4 L271.5 681.4 L272.0 681.5 L272.5 681.0 L273.0 680.8 L273.5 680.9 L274.0 681.1 L274.5 680.8 L275.0 681.1 L275.5 680.9 L276.0 680.7 L276.5 680.8 L277.0 680.6 L277.5 680.5 L278.0 680.4 L278.5 680.3 L279.0 680.4 L279.5 680.7 L280.0 681.0 L280.5 681.1 L281.0 681.0 L281.5 681.1 L282.0 680.7 L282.5 681.0 L283.0 680.9 L283.5 680.6 L284.0 680.6 L284.5 680.5 L285.0 680.8 L285.5 680.7 L286.0 680.4 L286.5 680.4 L287.0 680.3 L287.5 680.8 L288.0 680.7 L288.5 680.9 L289.0 680.9 L289.5 680.7 L290.0 680.9 L290.5 680.8 L291.0 680.4 L291.5 680.8 L292.0 680.6 L292.5 680.7 L293.0 680.6 L293.5 680.9 L294.0 680.5 L294.5 680.2 L295.0 680.0 L295.5 680.1 L296.0 680.4 L296.5 680.4 L297.0 680.6 L297.5 680.2 L298.0 680.5 L298.5 680.1 L299.0 680.3 L299.5 680.0 L300.0 680.0 L300.5 680.0 L301.0 680.2 L301.5 680.0 L302.0 680.0 L302.5 679.5 L303.0 679.8 L303.5 679.6 L304.0 679.5 L304.5 679.6 L305.0 679.2 L305.5 679.2 L306.0 679.1 L306.5 678.7 L307.0 678.4 L307.5 678.3 L308.0 678.1 L308.5 678.1 L309.0 677.9" stroke="#f5a596"/>
</g>
<!-- dashed arrows -->
<g fill="none" stroke="#000" stroke-width="1.8">
  <path d="M198,666.4 C203,624 210,580 217,535 C224,490 232,440 240.8,416 C242,398 232,390 213,381 L201,371.1" stroke-dasharray="6 3.5" marker-end="url(#ah2)"/>
  <path d="M217.9,677.2 C224,628 231,588 240,537 C248,496 258,455 265.7,414.6 C266,398 255,388 235.5,381.3 L219,371.6" stroke-dasharray="3.6 2.3" marker-end="url(#ah2)"/>
  <path d="M238.3,678.8 C246,628 255,590 265,539 C275,482 288,440 296,407.6 C297,392 283,389 260,379.5 L242.2,367.8" stroke-dasharray="6 3.5" marker-end="url(#ah2)"/>
</g>
<!-- axes b -->
<g stroke="#000" stroke-width="2" fill="none">
  <path d="M175,706.9 L47.5,706.9 L47.5,285.7 L310.4,285.7 L310.4,706.9 L182.8,706.9"/>
  <path d="M120.6,706.9 V699 M237.6,706.9 V699 M84,706.9 V703 M157.2,706.9 V703 M200.5,706.9 V703 M274,706.9 V703"/>
  <path d="M174.1,712.8 L178.5,701.5 M178.9,712.8 L183.6,701.5"/>
</g>
<g font-size="20" text-anchor="middle">
  <text x="47" y="734">−60</text>
  <text x="120" y="734">−30</text>
  <text x="237.6" y="734">30</text>
  <text x="309.5" y="734">60</text>
</g>
<text x="180" y="762" font-size="21.5" letter-spacing="0.6" text-anchor="middle">Raman shift (cm<tspan font-size="13" dy="-9">-1</tspan><tspan dy="9">)</tspan></text>
<text transform="translate(25.3,496.2) rotate(-90)" font-size="21.5" letter-spacing="0.6" text-anchor="middle">Intensity (arb.u.)</text>
<text x="56.6" y="304" font-size="16.5" letter-spacing="0.4" fill="#ff0000">MEW</text>
<text x="125.3" y="305.8" font-size="17.5" letter-spacing="0.5"><tspan font-style="italic">P</tspan> (GPa)</text>
<g font-size="17.5" text-anchor="middle">
  <text x="152.8" y="345.6">0</text>
  <text x="152.8" y="399.8">9.6</text>
  <text x="152.8" y="441.2">8.0</text>
  <text x="152.8" y="484">6.3</text>
  <text x="152.8" y="529">4.7</text>
  <text x="152.8" y="571.7">2.4</text>
  <text x="152.8" y="614.8">0.5</text>
  <text x="152.8" y="656.5">0</text>
</g>
<g font-size="16" fill="#ff0000">
  <text x="176.5" y="336.7">LB<tspan font-size="11" dy="4">6,5</tspan></text>
  <text x="204.8" y="358.2">S<tspan font-size="11" dy="4">6,3</tspan></text>
  <text x="247.8" y="330.4">S<tspan font-size="11" dy="4">6,1</tspan></text>
</g>

<!-- ================= Panel c ================= -->
<text x="330" y="279.5" font-size="27" font-weight="bold">c</text>
<g>
<polygon points="456.5,402.5 463.0,413.5 450.0,413.5" fill="#ff0000"/>
<polygon points="462.5,398.1 469.0,409.1 456.0,409.1" fill="#ff0000"/>
<polygon points="464.3,397.5 470.8,408.5 457.8,408.5" fill="#ff0000"/>
<polygon points="470.8,394.2 477.3,405.2 464.3,405.2" fill="#ff0000"/>
<polygon points="481.8,387.8 488.3,398.8 475.3,398.8" fill="#ff0000"/>
<polygon points="490.4,383.5 496.9,394.5 483.9,394.5" fill="#ff0000"/>
<polygon points="502.4,377.5 508.9,388.5 495.9,388.5" fill="#ff0000"/>
<polygon points="506.4,375.0 512.9,386.0 499.9,386.0" fill="#ff0000"/>
<polygon points="513.7,373.0 520.2,384.0 507.2,384.0" fill="#ff0000"/>
<polygon points="521.3,370.3 527.8,381.3 514.8,381.3" fill="#ff0000"/>
<polygon points="527.1,368.5 533.6,379.5 520.6,379.5" fill="#ff0000"/>
<polygon points="543.5,361.5 550.0,372.5 537.0,372.5" fill="#ff0000"/>
<polygon points="555.1,358.0 561.6,369.0 548.6,369.0" fill="#ff0000"/>
<polygon points="556.9,356.9 563.4,367.9 550.4,367.9" fill="#ff0000"/>
<polygon points="564.5,352.5 571.0,363.5 558.0,363.5" fill="#ff0000"/>
<polygon points="573.6,352.4 580.1,363.4 567.1,363.4" fill="#ff0000"/>
<polygon points="582.0,350.4 588.5,361.4 575.5,361.4" fill="#ff0000"/>
<polygon points="591.9,345.1 598.4,356.1 585.4,356.1" fill="#ff0000"/>
<polygon points="599.9,345.1 606.4,356.1 593.4,356.1" fill="#ff0000"/>
<polygon points="612.6,341.6 619.1,352.6 606.1,352.6" fill="#ff0000"/>
<polygon points="629.1,334.6 635.6,345.6 622.6,345.6" fill="#ff0000"/>
<polygon points="635.4,336.1 641.9,347.1 628.9,347.1" fill="#ff0000"/>
<polygon points="645.9,332.8 652.4,343.8 639.4,343.8" fill="#ff0000"/>
<polygon points="446.9,436.8 459.9,436.8 453.4,447.8" fill="#ff0000"/>
<polygon points="450.4,434.5 463.4,434.5 456.9,445.5" fill="#ff0000"/>
<polygon points="455.7,431.1 468.7,431.1 462.2,442.1" fill="#ff0000"/>
<polygon points="458.0,430.0 471.0,430.0 464.5,441.0" fill="#ff0000"/>
<polygon points="464.2,427.4 477.2,427.4 470.7,438.4" fill="#ff0000"/>
<polygon points="474.7,423.5 487.7,423.5 481.2,434.5" fill="#ff0000"/>
<polygon points="483.4,421.4 496.4,421.4 489.9,432.4" fill="#ff0000"/>
<polygon points="495.2,414.9 508.2,414.9 501.7,425.9" fill="#ff0000"/>
<polygon points="500.1,413.9 513.1,413.9 506.6,424.9" fill="#ff0000"/>
<polygon points="506.7,412.3 519.7,412.3 513.2,423.3" fill="#ff0000"/>
<polygon points="514.1,410.5 527.1,410.5 520.6,421.5" fill="#ff0000"/>
<polygon points="520.2,409.1 533.2,409.1 526.7,420.1" fill="#ff0000"/>
<polygon points="537.2,402.2 550.2,402.2 543.7,413.2" fill="#ff0000"/>
<polygon points="547.8,398.6 560.8,398.6 554.3,409.6" fill="#ff0000"/>
<polygon points="550.3,397.9 563.3,397.9 556.8,408.9" fill="#ff0000"/>
<polygon points="557.6,396.5 570.6,396.5 564.1,407.5" fill="#ff0000"/>
<polygon points="567.2,395.6 580.2,395.6 573.7,406.6" fill="#ff0000"/>
<polygon points="575.4,394.9 588.4,394.9 581.9,405.9" fill="#ff0000"/>
<polygon points="582.5,394.1 595.5,394.1 589.0,405.1" fill="#ff0000"/>
<polygon points="585.6,393.8 598.6,393.8 592.1,404.8" fill="#ff0000"/>
<polygon points="593.2,392.9 606.2,392.9 599.7,403.9" fill="#ff0000"/>
<polygon points="606.1,391.0 619.1,391.0 612.6,402.0" fill="#ff0000"/>
<polygon points="620.4,387.6 633.4,387.6 626.9,398.6" fill="#ff0000"/>
<polygon points="622.4,387.1 635.4,387.1 628.9,398.1" fill="#ff0000"/>
<polygon points="628.5,385.6 641.5,385.6 635.0,396.6" fill="#ff0000"/>
<polygon points="638.8,384.0 651.8,384.0 645.3,395.0" fill="#ff0000"/>
<circle cx="453.4" cy="467.5" r="5.3" fill="#ff0000"/>
<circle cx="456.9" cy="466.0" r="5.3" fill="#ff0000"/>
<circle cx="462.2" cy="464.7" r="5.3" fill="#ff0000"/>
<circle cx="464.5" cy="462.0" r="5.3" fill="#ff0000"/>
<circle cx="470.7" cy="457.7" r="5.3" fill="#ff0000"/>
<circle cx="481.2" cy="456.8" r="5.3" fill="#ff0000"/>
<circle cx="489.9" cy="454.2" r="5.3" fill="#ff0000"/>
<circle cx="501.7" cy="451.5" r="5.3" fill="#ff0000"/>
<circle cx="506.6" cy="448.9" r="5.3" fill="#ff0000"/>
<circle cx="513.2" cy="448.0" r="5.3" fill="#ff0000"/>
<circle cx="520.6" cy="447.2" r="5.3" fill="#ff0000"/>
<circle cx="526.7" cy="442.4" r="5.3" fill="#ff0000"/>
<circle cx="543.7" cy="442.6" r="5.3" fill="#ff0000"/>
<circle cx="554.3" cy="440.0" r="5.3" fill="#ff0000"/>
<circle cx="556.8" cy="439.1" r="5.3" fill="#ff0000"/>
<circle cx="564.1" cy="437.3" r="5.3" fill="#ff0000"/>
<circle cx="573.7" cy="439.0" r="5.3" fill="#ff0000"/>
<circle cx="581.9" cy="438.7" r="5.3" fill="#ff0000"/>
<circle cx="589.0" cy="433.5" r="5.3" fill="#ff0000"/>
<circle cx="592.1" cy="432.0" r="5.3" fill="#ff0000"/>
<circle cx="599.7" cy="436.4" r="5.3" fill="#ff0000"/>
<circle cx="612.6" cy="435.5" r="5.3" fill="#ff0000"/>
<circle cx="626.9" cy="425.5" r="5.3" fill="#ff0000"/>
<circle cx="628.9" cy="432.0" r="5.3" fill="#ff0000"/>
<circle cx="635.0" cy="431.2" r="5.3" fill="#ff0000"/>
<circle cx="645.3" cy="431.2" r="5.3" fill="#ff0000"/>
<path d="M454.0 408.2 L458.8 405.5 L463.7 403.0 L468.5 400.8 L473.3 398.7 L478.1 396.6 L483.0 394.6 L487.8 392.7 L492.6 390.8 L497.5 388.9 L502.3 387.1 L507.1 385.3 L511.9 383.5 L516.8 381.7 L521.6 380.0 L526.4 378.3 L531.3 376.6 L536.1 374.9 L540.9 373.2 L545.7 371.5 L550.6 369.8 L555.4 368.2 L560.2 366.5 L565.0 364.9 L569.9 363.3 L574.7 361.6 L579.5 360.0 L584.4 358.4 L589.2 356.8 L594.0 355.2 L598.8 353.6 L603.7 352.1 L608.5 350.5 L613.3 348.9 L618.2 347.3 L623.0 345.8 L627.8 344.2 L632.6 342.7 L637.5 341.1 L642.3 339.6" fill="none" stroke="#1515e6" stroke-width="1.1"/>
<path d="M453.8 439.6 L458.6 437.5 L463.5 435.7 L468.3 434.0 L473.2 432.4 L478.0 430.9 L482.8 429.4 L487.7 428.0 L492.5 426.5 L497.3 425.2 L502.2 423.8 L507.0 422.5 L511.9 421.1 L516.7 419.8 L521.5 418.6 L526.4 417.3 L531.2 416.0 L536.1 414.8 L540.9 413.5 L545.7 412.3 L550.6 411.1 L555.4 409.8 L560.2 408.6 L565.1 407.4 L569.9 406.2 L574.8 405.0 L579.6 403.9 L584.4 402.7 L589.3 401.5 L594.1 400.3 L599.0 399.2 L603.8 398.0 L608.6 396.9 L613.5 395.7 L618.3 394.6 L623.1 393.4 L628.0 392.3 L632.8 391.1 L637.7 390.0 L642.5 388.9" fill="none" stroke="#1515e6" stroke-width="1.1"/>
<path d="M453.7 466.3 L458.5 464.6 L463.4 463.2 L468.2 461.9 L473.0 460.6 L477.9 459.5 L482.7 458.3 L487.5 457.2 L492.3 456.2 L497.2 455.2 L502.0 454.2 L506.8 453.2 L511.7 452.2 L516.5 451.2 L521.3 450.3 L526.2 449.4 L531.0 448.4 L535.8 447.5 L540.7 446.6 L545.5 445.7 L550.3 444.9 L555.1 444.0 L560.0 443.1 L564.8 442.3 L569.6 441.4 L574.5 440.5 L579.3 439.7 L584.1 438.9 L589.0 438.0 L593.8 437.2 L598.6 436.4 L603.5 435.5 L608.3 434.7 L613.1 433.9 L617.9 433.1 L622.8 432.3 L627.6 431.5 L632.4 430.7 L637.3 429.9 L642.1 429.1" fill="none" stroke="#1515e6" stroke-width="1.1"/>
<polygon points="454.0,403.7 460.5,414.7 447.5,414.7" fill="#0000ff"/>
<polygon points="460.6,399.3 467.1,410.3 454.1,410.3" fill="#0000ff"/>
<polygon points="467.3,394.7 473.8,405.7 460.8,405.7" fill="#0000ff"/>
<polygon points="478.3,389.9 484.8,400.9 471.8,400.9" fill="#0000ff"/>
<polygon points="493.4,384.5 499.9,395.5 486.9,395.5" fill="#0000ff"/>
<polygon points="510.8,379.0 517.3,390.0 504.3,390.0" fill="#0000ff"/>
<polygon points="535.3,370.3 541.8,381.3 528.8,381.3" fill="#0000ff"/>
<polygon points="552.2,364.8 558.7,375.8 545.7,375.8" fill="#0000ff"/>
<polygon points="576.6,355.5 583.1,366.5 570.1,366.5" fill="#0000ff"/>
<polygon points="611.6,343.4 618.1,354.4 605.1,354.4" fill="#0000ff"/>
<polygon points="642.3,333.9 648.8,344.9 635.8,344.9" fill="#0000ff"/>
<polygon points="447.3,434.5 460.3,434.5 453.8,445.5" fill="#0000ff"/>
<polygon points="453.8,432.0 466.8,432.0 460.3,443.0" fill="#0000ff"/>
<polygon points="460.4,427.9 473.4,427.9 466.9,438.9" fill="#0000ff"/>
<polygon points="471.3,425.0 484.3,425.0 477.8,436.0" fill="#0000ff"/>
<polygon points="486.7,420.5 499.7,420.5 493.2,431.5" fill="#0000ff"/>
<polygon points="504.9,416.2 517.9,416.2 511.4,427.2" fill="#0000ff"/>
<polygon points="528.3,410.5 541.3,410.5 534.8,421.5" fill="#0000ff"/>
<polygon points="545.8,405.5 558.8,405.5 552.3,416.5" fill="#0000ff"/>
<polygon points="569.6,398.8 582.6,398.8 576.1,409.8" fill="#0000ff"/>
<polygon points="605.2,389.9 618.2,389.9 611.7,400.9" fill="#0000ff"/>
<polygon points="636.0,383.7 649.0,383.7 642.5,394.7" fill="#0000ff"/>
<circle cx="453.7" cy="467.0" r="5.3" fill="#0000ff"/>
<circle cx="460.1" cy="463.8" r="5.3" fill="#0000ff"/>
<circle cx="467.2" cy="461.2" r="5.3" fill="#0000ff"/>
<circle cx="477.7" cy="459.4" r="5.3" fill="#0000ff"/>
<circle cx="493.4" cy="455.9" r="5.3" fill="#0000ff"/>
<circle cx="511.0" cy="452.9" r="5.3" fill="#0000ff"/>
<circle cx="535.0" cy="448.4" r="5.3" fill="#0000ff"/>
<circle cx="552.1" cy="445.4" r="5.3" fill="#0000ff"/>
<circle cx="576.1" cy="438.3" r="5.3" fill="#0000ff"/>
<circle cx="611.7" cy="434.5" r="5.3" fill="#0000ff"/>
<circle cx="642.1" cy="429.2" r="5.3" fill="#0000ff"/>
</g>
<g>
<g fill="none" stroke-width="1.3">
<path d="M453.8 645.9 L460.4 632.4 L467.4 626.3 L477.9 607.4 L493.2 602.6 L510.7 603.9 L534.7 606.7 L552.4 598.5 L576.4 579.3 L611.5 586.2 L642.2 568.5" stroke="#1a1aff"/>
<path d="M453.8 675.0 L460.4 674.0 L467.4 671.0 L478.3 666.0 L493.5 663.0 L511.2 657.0 L534.7 655.0 L552.6 654.0 L576.6 646.5 L611.7 628.1 L642.4 619.4" stroke="#1a1aff"/>
<path d="M453.8 677.0 L460.4 676.0 L467.4 674.0 L478.3 672.0 L493.5 669.0 L511.2 668.0 L534.7 670.0 L552.6 668.0 L576.6 664.0 L611.7 643.3 L642.4 647.4" stroke="#1a1aff"/>
<circle cx="453.8" cy="645.9" r="5.2" fill="#fff" stroke="#1a1aff"/>
<circle cx="460.4" cy="632.4" r="5.2" fill="#fff" stroke="#1a1aff"/>
<circle cx="467.4" cy="626.3" r="5.2" fill="#fff" stroke="#1a1aff"/>
<circle cx="477.9" cy="607.4" r="5.2" fill="#fff" stroke="#1a1aff"/>
<circle cx="493.2" cy="602.6" r="5.2" fill="#fff" stroke="#1a1aff"/>
<circle cx="510.7" cy="603.9" r="5.2" fill="#fff" stroke="#1a1aff"/>
<circle cx="534.7" cy="606.7" r="5.2" fill="#fff" stroke="#1a1aff"/>
<circle cx="552.4" cy="598.5" r="5.2" fill="#fff" stroke="#1a1aff"/>
<circle cx="576.4" cy="579.3" r="5.2" fill="#fff" stroke="#1a1aff"/>
<circle cx="611.5" cy="586.2" r="5.2" fill="#fff" stroke="#1a1aff"/>
<circle cx="642.2" cy="568.5" r="5.2" fill="#fff" stroke="#1a1aff"/>
<polygon points="453.8,669.5 460.3,680.5 447.3,680.5" stroke="#1a1aff"/>
<polygon points="460.4,668.5 466.9,679.5 453.9,679.5" stroke="#1a1aff"/>
<polygon points="467.4,665.5 473.9,676.5 460.9,676.5" stroke="#1a1aff"/>
<polygon points="478.3,660.5 484.8,671.5 471.8,671.5" stroke="#1a1aff"/>
<polygon points="493.5,657.5 500.0,668.5 487.0,668.5" stroke="#1a1aff"/>
<polygon points="511.2,651.5 517.7,662.5 504.7,662.5" stroke="#1a1aff"/>
<polygon points="534.7,649.5 541.2,660.5 528.2,660.5" stroke="#1a1aff"/>
<polygon points="552.6,648.5 559.1,659.5 546.1,659.5" stroke="#1a1aff"/>
<polygon points="576.6,641.0 583.1,652.0 570.1,652.0" stroke="#1a1aff"/>
<polygon points="611.7,622.6 618.2,633.6 605.2,633.6" stroke="#1a1aff"/>
<polygon points="642.4,613.9 648.9,624.9 635.9,624.9" stroke="#1a1aff"/>
<polygon points="447.3,671.5 460.3,671.5 453.8,682.5" stroke="#1a1aff"/>
<polygon points="453.9,670.5 466.9,670.5 460.4,681.5" stroke="#1a1aff"/>
<polygon points="460.9,668.5 473.9,668.5 467.4,679.5" stroke="#1a1aff"/>
<polygon points="471.8,666.5 484.8,666.5 478.3,677.5" stroke="#1a1aff"/>
<polygon points="487.0,663.5 500.0,663.5 493.5,674.5" stroke="#1a1aff"/>
<polygon points="504.7,662.5 517.7,662.5 511.2,673.5" stroke="#1a1aff"/>
<polygon points="528.2,664.5 541.2,664.5 534.7,675.5" stroke="#1a1aff"/>
<polygon points="546.1,662.5 559.1,662.5 552.6,673.5" stroke="#1a1aff"/>
<polygon points="570.1,658.5 583.1,658.5 576.6,669.5" stroke="#1a1aff"/>
<polygon points="605.2,637.8 618.2,637.8 611.7,648.8" stroke="#1a1aff"/>
<polygon points="635.9,641.9 648.9,641.9 642.4,652.9" stroke="#1a1aff"/>
<path d="M453.4 648.7 L456.9 642.9 L462.2 617.5 L464.5 585.7 L470.7 581.0 L481.2 579.2 L489.9 583.2 L501.7 581.8 L506.6 574.0 L513.2 572.2 L520.6 579.2 L526.7 564.3 L543.7 565.0 L554.3 564.4 L556.8 548.4 L564.1 552.1 L573.7 564.0 L581.9 554.2 L589.0 549.0 L592.1 547.4 L599.7 539.9 L612.6 543.9 L626.9 536.4 L628.9 523.1 L635.0 536.4 L645.3 533.7" stroke="#ff1a1a"/>
<path d="M453.4 676.2 L456.9 679.3 L462.2 676.0 L464.5 673.6 L470.7 676.3 L481.2 671.9 L489.9 671.3 L501.7 674.8 L506.6 676.5 L513.2 673.7 L520.6 669.8 L526.7 672.0 L543.7 668.5 L554.3 666.7 L556.8 669.4 L564.1 669.5 L573.7 668.7 L581.9 667.9 L589.0 671.2 L592.1 669.9 L599.7 665.7 L612.6 664.7 L626.9 667.1 L628.9 667.6 L635.0 667.9 L645.3 660.6" stroke="#ff1a1a"/>
<path d="M453.4 668.3 L456.9 667.7 L462.2 668.1 L464.5 667.6 L470.7 668.8 L481.2 665.9 L489.9 668.1 L501.7 663.8 L506.6 668.2 L513.2 666.2 L520.6 662.9 L526.7 662.9 L543.7 663.1 L554.3 663.8 L556.8 665.6 L564.1 664.3 L573.7 664.0 L581.9 661.8 L589.0 665.1 L592.1 663.5 L599.7 660.8 L612.6 659.5 L626.9 660.6 L628.9 660.4 L635.0 662.5 L645.3 658.9" stroke="#ff1a1a"/>
<circle cx="453.4" cy="648.7" r="5.2" fill="#fff" stroke="#ff1a1a"/>
<circle cx="456.9" cy="642.9" r="5.2" fill="#fff" stroke="#ff1a1a"/>
<circle cx="462.2" cy="617.5" r="5.2" fill="#fff" stroke="#ff1a1a"/>
<circle cx="464.5" cy="585.7" r="5.2" fill="#fff" stroke="#ff1a1a"/>
<circle cx="470.7" cy="581.0" r="5.2" fill="#fff" stroke="#ff1a1a"/>
<circle cx="481.2" cy="579.2" r="5.2" fill="#fff" stroke="#ff1a1a"/>
<circle cx="489.9" cy="583.2" r="5.2" fill="#fff" stroke="#ff1a1a"/>
<circle cx="501.7" cy="581.8" r="5.2" fill="#fff" stroke="#ff1a1a"/>
<circle cx="506.6" cy="574.0" r="5.2" fill="#fff" stroke="#ff1a1a"/>
<circle cx="513.2" cy="572.2" r="5.2" fill="#fff" stroke="#ff1a1a"/>
<circle cx="520.6" cy="579.2" r="5.2" fill="#fff" stroke="#ff1a1a"/>
<circle cx="526.7" cy="564.3" r="5.2" fill="#fff" stroke="#ff1a1a"/>
<circle cx="543.7" cy="565.0" r="5.2" fill="#fff" stroke="#ff1a1a"/>
<circle cx="554.3" cy="564.4" r="5.2" fill="#fff" stroke="#ff1a1a"/>
<circle cx="556.8" cy="548.4" r="5.2" fill="#fff" stroke="#ff1a1a"/>
<circle cx="564.1" cy="552.1" r="5.2" fill="#fff" stroke="#ff1a1a"/>
<circle cx="573.7" cy="564.0" r="5.2" fill="#fff" stroke="#ff1a1a"/>
<circle cx="581.9" cy="554.2" r="5.2" fill="#fff" stroke="#ff1a1a"/>
<circle cx="589.0" cy="549.0" r="5.2" fill="#fff" stroke="#ff1a1a"/>
<circle cx="592.1" cy="547.4" r="5.2" fill="#fff" stroke="#ff1a1a"/>
<circle cx="599.7" cy="539.9" r="5.2" fill="#fff" stroke="#ff1a1a"/>
<circle cx="612.6" cy="543.9" r="5.2" fill="#fff" stroke="#ff1a1a"/>
<circle cx="626.9" cy="536.4" r="5.2" fill="#fff" stroke="#ff1a1a"/>
<circle cx="628.9" cy="523.1" r="5.2" fill="#fff" stroke="#ff1a1a"/>
<circle cx="635.0" cy="536.4" r="5.2" fill="#fff" stroke="#ff1a1a"/>
<circle cx="645.3" cy="533.7" r="5.2" fill="#fff" stroke="#ff1a1a"/>
<polygon points="453.4,670.7 459.9,681.7 446.9,681.7" stroke="#ff1a1a"/>
<polygon points="456.9,673.8 463.4,684.8 450.4,684.8" stroke="#ff1a1a"/>
<polygon points="462.2,670.5 468.7,681.5 455.7,681.5" stroke="#ff1a1a"/>
<polygon points="464.5,668.1 471.0,679.1 458.0,679.1" stroke="#ff1a1a"/>
<polygon points="470.7,670.8 477.2,681.8 464.2,681.8" stroke="#ff1a1a"/>
<polygon points="481.2,666.4 487.7,677.4 474.7,677.4" stroke="#ff1a1a"/>
<polygon points="489.9,665.8 496.4,676.8 483.4,676.8" stroke="#ff1a1a"/>
<polygon points="501.7,669.3 508.2,680.3 495.2,680.3" stroke="#ff1a1a"/>
<polygon points="506.6,671.0 513.1,682.0 500.1,682.0" stroke="#ff1a1a"/>
<polygon points="513.2,668.2 519.7,679.2 506.7,679.2" stroke="#ff1a1a"/>
<polygon points="520.6,664.3 527.1,675.3 514.1,675.3" stroke="#ff1a1a"/>
<polygon points="526.7,666.5 533.2,677.5 520.2,677.5" stroke="#ff1a1a"/>
<polygon points="543.7,663.0 550.2,674.0 537.2,674.0" stroke="#ff1a1a"/>
<polygon points="554.3,661.2 560.8,672.2 547.8,672.2" stroke="#ff1a1a"/>
<polygon points="556.8,663.9 563.3,674.9 550.3,674.9" stroke="#ff1a1a"/>
<polygon points="564.1,664.0 570.6,675.0 557.6,675.0" stroke="#ff1a1a"/>
<polygon points="573.7,663.2 580.2,674.2 567.2,674.2" stroke="#ff1a1a"/>
<polygon points="581.9,662.4 588.4,673.4 575.4,673.4" stroke="#ff1a1a"/>
<polygon points="589.0,665.7 595.5,676.7 582.5,676.7" stroke="#ff1a1a"/>
<polygon points="592.1,664.4 598.6,675.4 585.6,675.4" stroke="#ff1a1a"/>
<polygon points="599.7,660.2 606.2,671.2 593.2,671.2" stroke="#ff1a1a"/>
<polygon points="612.6,659.2 619.1,670.2 606.1,670.2" stroke="#ff1a1a"/>
<polygon points="626.9,661.6 633.4,672.6 620.4,672.6" stroke="#ff1a1a"/>
<polygon points="628.9,662.1 635.4,673.1 622.4,673.1" stroke="#ff1a1a"/>
<polygon points="635.0,662.4 641.5,673.4 628.5,673.4" stroke="#ff1a1a"/>
<polygon points="645.3,655.1 651.8,666.1 638.8,666.1" stroke="#ff1a1a"/>
<polygon points="446.9,662.8 459.9,662.8 453.4,673.8" stroke="#ff1a1a"/>
<polygon points="450.4,662.2 463.4,662.2 456.9,673.2" stroke="#ff1a1a"/>
<polygon points="455.7,662.6 468.7,662.6 462.2,673.6" stroke="#ff1a1a"/>
<polygon points="458.0,662.1 471.0,662.1 464.5,673.1" stroke="#ff1a1a"/>
<polygon points="464.2,663.3 477.2,663.3 470.7,674.3" stroke="#ff1a1a"/>
<polygon points="474.7,660.4 487.7,660.4 481.2,671.4" stroke="#ff1a1a"/>
<polygon points="483.4,662.6 496.4,662.6 489.9,673.6" stroke="#ff1a1a"/>
<polygon points="495.2,658.3 508.2,658.3 501.7,669.3" stroke="#ff1a1a"/>
<polygon points="500.1,662.7 513.1,662.7 506.6,673.7" stroke="#ff1a1a"/>
<polygon points="506.7,660.7 519.7,660.7 513.2,671.7" stroke="#ff1a1a"/>
<polygon points="514.1,657.4 527.1,657.4 520.6,668.4" stroke="#ff1a1a"/>
<polygon points="520.2,657.4 533.2,657.4 526.7,668.4" stroke="#ff1a1a"/>
<polygon points="537.2,657.6 550.2,657.6 543.7,668.6" stroke="#ff1a1a"/>
<polygon points="547.8,658.3 560.8,658.3 554.3,669.3" stroke="#ff1a1a"/>
<polygon points="550.3,660.1 563.3,660.1 556.8,671.1" stroke="#ff1a1a"/>
<polygon points="557.6,658.8 570.6,658.8 564.1,669.8" stroke="#ff1a1a"/>
<polygon points="567.2,658.5 580.2,658.5 573.7,669.5" stroke="#ff1a1a"/>
<polygon points="575.4,656.3 588.4,656.3 581.9,667.3" stroke="#ff1a1a"/>
<polygon points="582.5,659.6 595.5,659.6 589.0,670.6" stroke="#ff1a1a"/>
<polygon points="585.6,658.0 598.6,658.0 592.1,669.0" stroke="#ff1a1a"/>
<polygon points="593.2,655.3 606.2,655.3 599.7,666.3" stroke="#ff1a1a"/>
<polygon points="606.1,654.0 619.1,654.0 612.6,665.0" stroke="#ff1a1a"/>
<polygon points="620.4,655.1 633.4,655.1 626.9,666.1" stroke="#ff1a1a"/>
<polygon points="622.4,654.9 635.4,654.9 628.9,665.9" stroke="#ff1a1a"/>
<polygon points="628.5,657.0 641.5,657.0 635.0,668.0" stroke="#ff1a1a"/>
<polygon points="638.8,653.4 651.8,653.4 645.3,664.4" stroke="#ff1a1a"/>
</g>
</g>
<g stroke="#000" stroke-width="2" fill="none">
  <rect x="421.5" y="286" width="262.4" height="421"/>
  <path d="M421.5,496.7 H683.9"/>
  <!-- upper y ticks -->
  <path d="M421.5,350.7 h8 M421.5,415.3 h8 M421.5,480 h8 M421.5,318.4 h4 M421.5,383 h4 M421.5,447.6 h4"/>
  <!-- lower y ticks -->
  <path d="M421.5,689.6 h8 M421.5,637.1 h8 M421.5,584.6 h8 M421.5,532.1 h8"/>
  <path d="M421.5,672.1 h4 M421.5,654.6 h4 M421.5,619.6 h4 M421.5,602.1 h4 M421.5,567.1 h4 M421.5,549.6 h4 M421.5,514.6 h4"/>
  <!-- x ticks on divider and bottom -->
  <path d="M454.1,496.7 v-9 M519.8,496.7 v-9 M585.5,496.7 v-9 M651.2,496.7 v-9 M486.95,496.7 v-4 M552.65,496.7 v-4 M618.35,496.7 v-4"/>
  <path d="M454.1,707 v-9 M519.8,707 v-9 M585.5,707 v-9 M651.2,707 v-9 M486.95,707 v-4 M552.65,707 v-4 M618.35,707 v-4"/>
</g>
<g font-size="20" text-anchor="end" transform="translate(1,0)">
  <text x="409" y="292.7">70</text>
  <text x="409" y="357.4">50</text>
  <text x="409" y="422">30</text>
  <text x="409" y="486.7">10</text>
  <text x="409" y="539">9</text>
  <text x="409" y="591.5">6</text>
  <text x="409" y="644">3</text>
  <text x="409" y="696.5">0</text>
</g>
<g font-size="20" text-anchor="middle">
  <text x="454.1" y="734">0</text>
  <text x="519.8" y="734">3</text>
  <text x="585.5" y="734">6</text>
  <text x="651.2" y="734">9</text>
</g>
<text x="552.7" y="762" font-size="21.5" letter-spacing="0.42" text-anchor="middle">Pressure (GPa)</text>
<text transform="translate(374.5,390.1) rotate(-90)" font-size="21.5" letter-spacing="0.6" text-anchor="middle">Raman shift (cm<tspan font-size="13" dy="-9">-1</tspan><tspan dy="9">)</tspan></text>
<text transform="translate(374.5,601.1) rotate(-90)" font-size="21.5" letter-spacing="0.7" text-anchor="middle">FWHM (cm<tspan font-size="13" dy="-9">-1</tspan><tspan dy="9">)</tspan></text>
<!-- upper legend -->
<g stroke="#000" stroke-width="1.2"><path d="M437.4,302.5 H463.2 M437.4,324.1 H463.2 M437.4,345.6 H463.2"/></g>
<polygon points="450.1,295.5 456.4,306.2 443.8,306.2" fill="#000"/>
<polygon points="443.8,320.5 456.4,320.5 450.1,331.4" fill="#000"/>
<circle cx="450.1" cy="345.6" r="5.5" fill="#000"/>
<g font-size="14.5">
  <text x="471.3" y="307.6">S<tspan font-size="10.5" dy="4.3">6,1</tspan></text>
  <text x="471.3" y="329.5">S<tspan font-size="10.5" dy="4.3">6,3</tspan></text>
  <text x="471.3" y="351">LB<tspan font-size="10.5" dy="4.3">6,5</tspan></text>
</g>
<text x="524.3" y="310.5" font-size="16" letter-spacing="0.45">PTM: <tspan fill="#1515ff">Si oil, </tspan><tspan fill="#ff0000">MEW</tspan></text>
<!-- lower legend -->
<g stroke="#3a3a3a" stroke-width="1.15" fill="none">
  <path d="M433.5,512.5 H444.8 M455.2,512.5 H466.9 M433.5,533.7 H444.2 M455.8,533.7 H466.9 M433.5,555.9 H444.2 M455.8,555.9 H466.9"/>
  <circle cx="450.1" cy="512.5" r="5.1"/>
  <polygon points="443.8,530.3 456,530.3 449.9,540.7"/>
  <polygon points="449.9,548.3 456,558.7 443.8,558.7"/>
</g>
<g font-size="14.5" fill="#111">
  <text x="471.5" y="518">LB<tspan font-size="10.5" dy="4.3">6,5</tspan></text>
  <text x="471.5" y="538.9">S<tspan font-size="10.5" dy="4.3">6,3</tspan></text>
  <text x="471.5" y="560.8">S<tspan font-size="10.5" dy="4.3">6,1</tspan></text>
</g>
</svg>
</body></html>
